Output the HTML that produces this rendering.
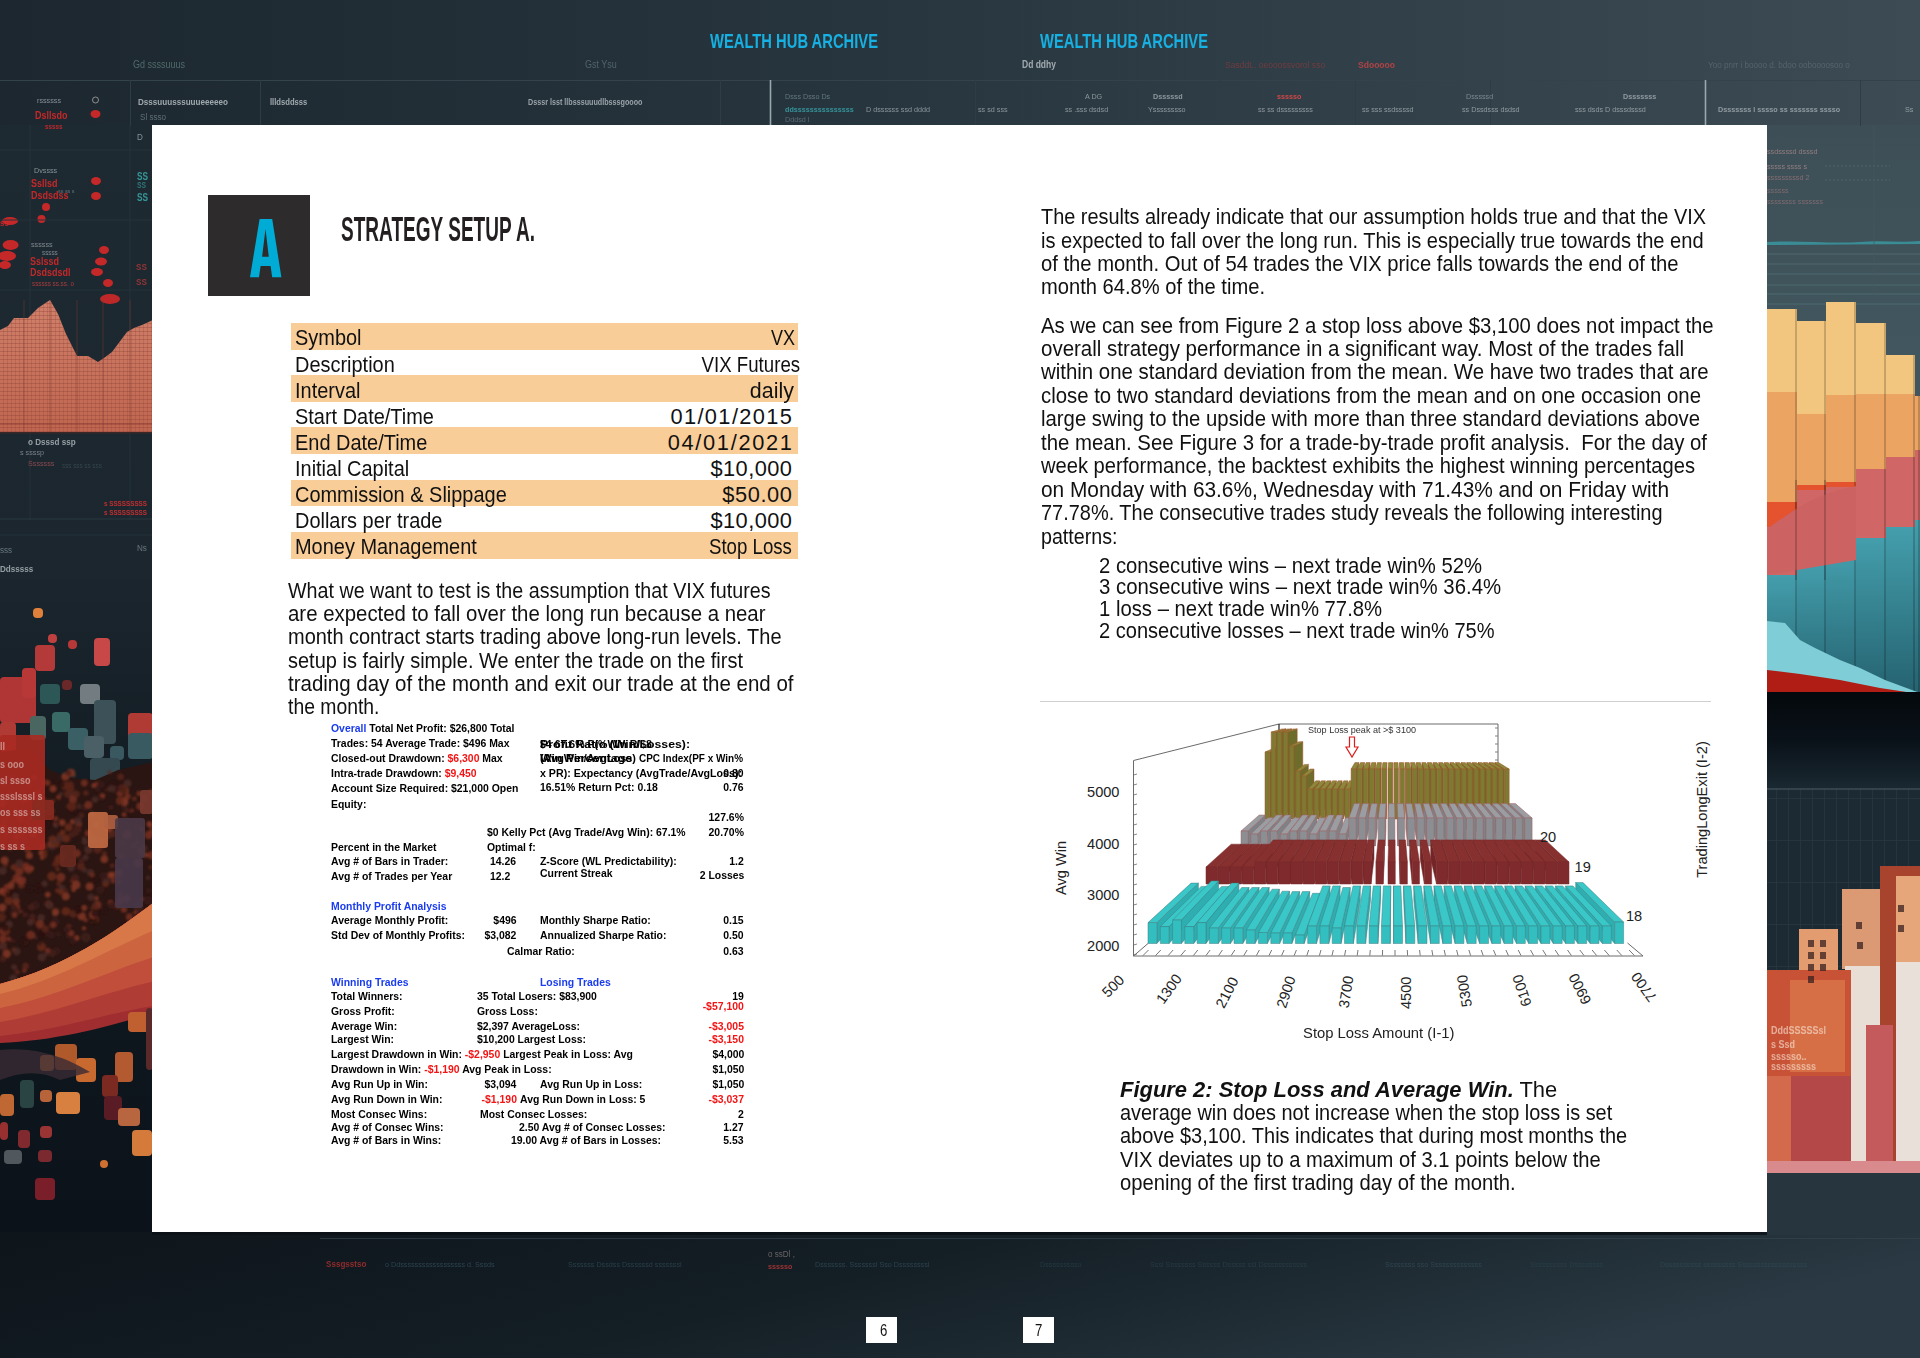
<!DOCTYPE html>
<html><head><meta charset="utf-8"><title>Strategy Setup A</title>
<style>
html,body{margin:0;padding:0;}
body{width:1920px;height:1358px;position:relative;overflow:hidden;background:#18232b;font-family:"Liberation Sans",sans-serif;}
svg.bg,svg.chart{position:absolute;left:0;top:0;}
.page{position:absolute;left:152px;top:125px;width:1615px;height:1107px;background:#fff;}
.t{position:absolute;white-space:nowrap;}
.box{position:absolute;left:208px;top:195px;width:102px;height:101px;background:#2d2b2c;}
.orow{position:absolute;left:291px;width:506.5px;background:#f9cd98;}
.pn{position:absolute;top:1317px;width:31px;height:26px;background:#fff;}
</style></head><body>
<svg class="bg" width="1920" height="1358" viewBox="0 0 1920 1358">
<defs>
<linearGradient id="gTop" x1="0" y1="0" x2="1" y2="0">
 <stop offset="0" stop-color="#1c272f"/><stop offset="0.45" stop-color="#27353e"/><stop offset="1" stop-color="#3d4b54"/>
</linearGradient>
<linearGradient id="gBot" x1="0" y1="0" x2="1" y2="0.25">
 <stop offset="0" stop-color="#0e151b"/><stop offset="0.5" stop-color="#141e25"/><stop offset="0.75" stop-color="#1e2b33"/><stop offset="1" stop-color="#2a3943"/>
</linearGradient>
<linearGradient id="gLeft" x1="0" y1="0" x2="0" y2="1">
 <stop offset="0" stop-color="#1e2a32"/><stop offset="0.4" stop-color="#1b262e"/><stop offset="0.6" stop-color="#131c23"/><stop offset="1" stop-color="#0b1219"/>
</linearGradient>
<linearGradient id="gRight" x1="0" y1="0" x2="0" y2="1">
 <stop offset="0" stop-color="#3d4e56"/><stop offset="0.2" stop-color="#41565e"/><stop offset="1" stop-color="#34444d"/>
</linearGradient>
<linearGradient id="gBand" x1="1" y1="0" x2="0" y2="0.6">
 <stop offset="0" stop-color="#e08048"/><stop offset="0.45" stop-color="#cc6a40"/><stop offset="0.75" stop-color="#b04536"/><stop offset="1" stop-color="#8e2a2c"/>
</linearGradient>
<linearGradient id="gTealR" x1="0" y1="0" x2="1" y2="0">
 <stop offset="0" stop-color="#3f95a3"/><stop offset="1" stop-color="#2d6f7e"/>
</linearGradient>
<linearGradient id="gDarkR" x1="0" y1="0" x2="0" y2="1">
 <stop offset="0" stop-color="#04080c"/><stop offset="0.5" stop-color="#0a1219"/><stop offset="1" stop-color="#1b2a33"/>
</linearGradient>
<linearGradient id="gTealCol" x1="0" y1="0" x2="0" y2="1">
 <stop offset="0" stop-color="#449eac"/><stop offset="1" stop-color="#24606e"/>
</linearGradient>
<linearGradient id="gSalmon" x1="0" y1="0" x2="0" y2="1">
 <stop offset="0" stop-color="#d0806a"/><stop offset="1" stop-color="#c0664f"/>
</linearGradient>
<filter id="fBlur" x="-5%" y="-5%" width="110%" height="110%"><feGaussianBlur stdDeviation="1.2"/></filter>
<pattern id="pGrid" width="4" height="4" patternUnits="userSpaceOnUse">
 <rect width="4" height="4" fill="none"/><rect x="0" y="3" width="4" height="1" fill="#8a4036" opacity="0.35"/><rect x="3" y="0" width="1" height="4" fill="#8a4036" opacity="0.25"/>
</pattern>
<pattern id="pGridR" width="12" height="42" patternUnits="userSpaceOnUse">
 <rect x="0" y="0" width="1" height="42" fill="#2f4049" opacity="0.8"/><rect x="0" y="0" width="12" height="1" fill="#2f4049" opacity="0.8"/>
</pattern>
</defs>
<rect x="0" y="0" width="1920" height="1358" fill="#18232b"/>
<rect x="0" y="0" width="1920" height="126" fill="url(#gTop)"/>
<rect x="0" y="125" width="153" height="1110" fill="url(#gLeft)"/>
<rect x="1766" y="125" width="154" height="1110" fill="url(#gRight)"/>
<rect x="0" y="1232" width="1920" height="126" fill="url(#gBot)"/>
<line x1="0" y1="80.5" x2="1920" y2="80.5" stroke="#33424b" stroke-width="1"/>
<line x1="770.5" y1="80" x2="770.5" y2="126" stroke="#9aa8b0" stroke-width="1.6"/>
<line x1="1705.5" y1="80" x2="1705.5" y2="126" stroke="#9aa8b0" stroke-width="1.6"/>
<line x1="130.5" y1="80" x2="130.5" y2="126" stroke="#2e3c45" stroke-width="1"/>
<line x1="260.5" y1="80" x2="260.5" y2="126" stroke="#2e3c45" stroke-width="1"/>
<line x1="720.5" y1="80" x2="720.5" y2="126" stroke="#2e3c45" stroke-width="1"/>
<line x1="975.5" y1="80" x2="975.5" y2="126" stroke="#2e3c45" stroke-width="1"/>
<line x1="1220.5" y1="80" x2="1220.5" y2="126" stroke="#2e3c45" stroke-width="1"/>
<line x1="1355.5" y1="80" x2="1355.5" y2="126" stroke="#2e3c45" stroke-width="1"/>
<line x1="1490.5" y1="80" x2="1490.5" y2="126" stroke="#2e3c45" stroke-width="1"/>
<line x1="1860.5" y1="80" x2="1860.5" y2="126" stroke="#2e3c45" stroke-width="1"/>
<g><text transform="translate(133 68) scale(0.9 1)" font-family="Liberation Sans" font-size="10" font-weight="normal" fill="#5d7a78" opacity="0.8">Gd ssssuuus</text><text transform="translate(585 68) scale(0.9 1)" font-family="Liberation Sans" font-size="10" font-weight="normal" fill="#5d7076" opacity="0.8">Gst Ysu</text><text transform="translate(1022 68) scale(0.85 1)" font-family="Liberation Sans" font-size="10" font-weight="bold" fill="#c8d0d4" opacity="0.75">Dd ddhy</text><text transform="translate(1225 68) scale(0.95 1)" font-family="Liberation Sans" font-size="9" font-weight="normal" fill="#9a3a3a" opacity="0.6">Sasddt.. oeooossvorol sso</text><text transform="translate(1358 68) scale(0.95 1)" font-family="Liberation Sans" font-size="9" font-weight="bold" fill="#d04444" opacity="0.8">Sdooooo</text><text transform="translate(1708 68) scale(0.9 1)" font-family="Liberation Sans" font-size="9" font-weight="normal" fill="#6a7a82" opacity="0.55">Yoo pnrr i boooo d. bdoo ooboooosoo o</text><text transform="translate(138 105) scale(0.9 1)" font-family="Liberation Sans" font-size="9" font-weight="bold" fill="#c9d1d5" opacity="0.75">Dsssuuusssuuueeeeeo</text><text transform="translate(270 105) scale(0.85 1)" font-family="Liberation Sans" font-size="9" font-weight="bold" fill="#c9d1d5" opacity="0.75">llldsddsss</text><text transform="translate(528 105) scale(0.8 1)" font-family="Liberation Sans" font-size="9" font-weight="bold" fill="#c9d1d5" opacity="0.7">Dsssr lsst llbsssuuudlbsssgoooo</text><text transform="translate(140 120) scale(0.9 1)" font-family="Liberation Sans" font-size="9" font-weight="normal" fill="#8a9aa2" opacity="0.6">Sl ssso</text><text transform="translate(785 99) scale(0.9 1)" font-family="Liberation Sans" font-size="8" font-weight="normal" fill="#8aa0a8" opacity="0.6">Dsss        Dsso      Ds</text><text transform="translate(785 112) scale(0.9 1)" font-family="Liberation Sans" font-size="8" font-weight="bold" fill="#3aaab0" opacity="0.8">ddsssssssssssssss</text><text transform="translate(866 112) scale(0.9 1)" font-family="Liberation Sans" font-size="8" font-weight="normal" fill="#c9d1d5" opacity="0.6">D dssssss   ssd  dddd</text><text transform="translate(978 112) scale(0.9 1)" font-family="Liberation Sans" font-size="8" font-weight="normal" fill="#c9d1d5" opacity="0.6">ss sd sss</text><text transform="translate(785 122) scale(0.9 1)" font-family="Liberation Sans" font-size="8" font-weight="normal" fill="#8aa0a8" opacity="0.5">Dddsd  l</text><text transform="translate(1085 99) scale(0.9 1)" font-family="Liberation Sans" font-size="8" font-weight="normal" fill="#c9d1d5" opacity="0.6">A DG</text><text transform="translate(1065 112) scale(0.9 1)" font-family="Liberation Sans" font-size="8" font-weight="normal" fill="#c9d1d5" opacity="0.6">ss .sss dsdsd</text><text transform="translate(1153 99) scale(0.9 1)" font-family="Liberation Sans" font-size="8" font-weight="bold" fill="#c9d1d5" opacity="0.6">Dsssssd</text><text transform="translate(1148 112) scale(0.9 1)" font-family="Liberation Sans" font-size="8" font-weight="normal" fill="#c9d1d5" opacity="0.6">Ysssssssso</text><text transform="translate(1277 99) scale(0.9 1)" font-family="Liberation Sans" font-size="8" font-weight="bold" fill="#e04848" opacity="0.9">ssssso</text><text transform="translate(1258 112) scale(0.9 1)" font-family="Liberation Sans" font-size="8" font-weight="normal" fill="#c9d1d5" opacity="0.6">ss ss dsssssssss</text><text transform="translate(1362 112) scale(0.9 1)" font-family="Liberation Sans" font-size="8" font-weight="normal" fill="#c9d1d5" opacity="0.6">ss sss  ssdssssd</text><text transform="translate(1466 99) scale(0.9 1)" font-family="Liberation Sans" font-size="8" font-weight="normal" fill="#aab6bc" opacity="0.6">Dsssssd</text><text transform="translate(1462 112) scale(0.9 1)" font-family="Liberation Sans" font-size="8" font-weight="normal" fill="#c9d1d5" opacity="0.6">ss Dssdsss dsdsd</text><text transform="translate(1575 112) scale(0.9 1)" font-family="Liberation Sans" font-size="8" font-weight="normal" fill="#c9d1d5" opacity="0.6">sss dsds  D dsssdsssd</text><text transform="translate(1623 99) scale(0.9 1)" font-family="Liberation Sans" font-size="8" font-weight="bold" fill="#c9d1d5" opacity="0.6">Dsssssss</text><text transform="translate(1718 112) scale(0.9 1)" font-family="Liberation Sans" font-size="8" font-weight="bold" fill="#c9d1d5" opacity="0.6">Dsssssss l sssso    ss sssssss sssso</text></g>
<g><text transform="translate(326 1267) scale(0.9 1)" font-family="Liberation Sans" font-size="9" font-weight="bold" fill="#b83030" opacity="0.75">Sssgsstso</text><text transform="translate(385 1267) scale(0.9 1)" font-family="Liberation Sans" font-size="8" font-weight="normal" fill="#355560" opacity="0.7">o Ddssssssssssssssssss d. Sssds</text><text transform="translate(568 1267) scale(0.9 1)" font-family="Liberation Sans" font-size="8" font-weight="normal" fill="#355560" opacity="0.6">Sssssss Dssdss Dssssssd sssssssl</text><text transform="translate(768 1257) scale(0.9 1)" font-family="Liberation Sans" font-size="9" font-weight="normal" fill="#a09090" opacity="0.6">o ssDl ,</text><text transform="translate(768 1269) scale(0.9 1)" font-family="Liberation Sans" font-size="8" font-weight="bold" fill="#c03838" opacity="0.8">ssssso</text><text transform="translate(815 1267) scale(0.9 1)" font-family="Liberation Sans" font-size="8" font-weight="normal" fill="#3a5a66" opacity="0.6">Dsssssss. Sssssssl Sso Dssssssssl</text><text transform="translate(1040 1267) scale(0.9 1)" font-family="Liberation Sans" font-size="8" font-weight="normal" fill="#2e4650" opacity="0.6">Dssssssssso</text><text transform="translate(1150 1267) scale(0.9 1)" font-family="Liberation Sans" font-size="8" font-weight="normal" fill="#2e4650" opacity="0.6">Sssl Ssssssss   Ssssss Dsssss  ssl  Dssssssssssss</text><text transform="translate(1385 1267) scale(0.9 1)" font-family="Liberation Sans" font-size="8" font-weight="normal" fill="#3a5560" opacity="0.6">Ssssssss sso Ssssssssssssss</text><text transform="translate(1530 1267) scale(0.9 1)" font-family="Liberation Sans" font-size="8" font-weight="normal" fill="#2e4650" opacity="0.6">Ssssssssss   Dssssssss</text><text transform="translate(1660 1267) scale(0.9 1)" font-family="Liberation Sans" font-size="8" font-weight="normal" fill="#34505a" opacity="0.6">Dssssssssss  sssssssss  Sssssssssssssssssss</text></g>
<line x1="320" y1="1238.5" x2="1920" y2="1238.5" stroke="#34454e" stroke-width="1" opacity="0.7"/>
<rect x="152" y="1232" width="1615" height="3" fill="#0a1015" opacity="0.8"/>
<g><text transform="translate(37 103) scale(0.9 1)" font-family="Liberation Sans" font-size="8" font-weight="normal" fill="#c8d0d4" opacity="0.6">rssssss</text><text transform="translate(35 119) scale(0.9 1)" font-family="Liberation Sans" font-size="10" font-weight="bold" fill="#d82828" opacity="0.9">Dsllsdo</text><text transform="translate(45 129) scale(0.9 1)" font-family="Liberation Sans" font-size="7" font-weight="bold" fill="#d82828" opacity="0.85">sssss</text><text transform="translate(34 173) scale(0.9 1)" font-family="Liberation Sans" font-size="8" font-weight="normal" fill="#c8d0d4" opacity="0.6">Dvssss</text><text transform="translate(31 187) scale(0.9 1)" font-family="Liberation Sans" font-size="10" font-weight="bold" fill="#d82828" opacity="0.9">Ssllsd</text><text transform="translate(31 199) scale(0.9 1)" font-family="Liberation Sans" font-size="10" font-weight="bold" fill="#d82828" opacity="0.9">Dsdsdss</text><text transform="translate(58 193) scale(0.9 1)" font-family="Liberation Sans" font-size="6" font-weight="normal" fill="#b0b8bc" opacity="0.5">ss ss s</text><text transform="translate(31 247) scale(0.9 1)" font-family="Liberation Sans" font-size="8" font-weight="normal" fill="#c8d0d4" opacity="0.55">ssssss</text><text transform="translate(42 255) scale(0.9 1)" font-family="Liberation Sans" font-size="7" font-weight="normal" fill="#c8d0d4" opacity="0.55">sssss</text><text transform="translate(30 265) scale(0.9 1)" font-family="Liberation Sans" font-size="10" font-weight="bold" fill="#d82828" opacity="0.9">Sslssd</text><text transform="translate(30 276) scale(0.9 1)" font-family="Liberation Sans" font-size="10" font-weight="bold" fill="#d82828" opacity="0.9">Dsdsdsdl</text><text transform="translate(32 286) scale(0.9 1)" font-family="Liberation Sans" font-size="7" font-weight="normal" fill="#c84040" opacity="0.8">ssssss ss.ss. o</text><text transform="translate(0 226) scale(0.9 1)" font-family="Liberation Sans" font-size="9" font-weight="bold" fill="#d82828" opacity="0.85">ss</text><text transform="translate(136 270) scale(0.9 1)" font-family="Liberation Sans" font-size="9" font-weight="bold" fill="#b03838" opacity="0.8">SS</text><text transform="translate(136 285) scale(0.9 1)" font-family="Liberation Sans" font-size="9" font-weight="bold" fill="#b03838" opacity="0.8">SS</text><ellipse cx="95.5" cy="114" rx="5" ry="4" fill="#d82828" opacity="0.9"/><ellipse cx="96" cy="181" rx="5" ry="4" fill="#d82828" opacity="0.9"/><ellipse cx="96" cy="196" rx="5" ry="4" fill="#d82828" opacity="0.9"/><ellipse cx="46" cy="207" rx="4" ry="4" fill="#d82828" opacity="0.9"/><ellipse cx="41.5" cy="219" rx="4" ry="4" fill="#d82828" opacity="0.9"/><ellipse cx="10" cy="221" rx="8" ry="4" fill="#d82828" opacity="0.9"/><ellipse cx="104" cy="250" rx="5" ry="4" fill="#d82828" opacity="0.9"/><ellipse cx="101" cy="261.5" rx="6" ry="4" fill="#d82828" opacity="0.9"/><ellipse cx="97" cy="272" rx="6" ry="4" fill="#d82828" opacity="0.9"/><ellipse cx="108" cy="283" rx="5" ry="4" fill="#d82828" opacity="0.9"/><ellipse cx="10.6" cy="245" rx="8" ry="5" fill="#d82828" opacity="0.9"/><ellipse cx="7" cy="256" rx="9" ry="5" fill="#d82828" opacity="0.9"/><ellipse cx="5" cy="265" rx="6" ry="4" fill="#d82828" opacity="0.9"/><ellipse cx="95.5" cy="100" rx="3" ry="3" fill="none" stroke="#d8d0d0" stroke-width="1" opacity="0.6"/><ellipse cx="110" cy="299" rx="10" ry="5" fill="#d02828" opacity="0.9"/><text transform="translate(137 180) scale(0.75 1)" font-family="Liberation Sans" font-size="11" font-weight="bold" fill="#3aa8a8" opacity="0.85">SS</text><text transform="translate(137 188) scale(0.75 1)" font-family="Liberation Sans" font-size="9" font-weight="bold" fill="#3aa8a8" opacity="0.6">SS</text><text transform="translate(137 201) scale(0.75 1)" font-family="Liberation Sans" font-size="11" font-weight="bold" fill="#3aa8a8" opacity="0.85">SS</text><text transform="translate(137 140) scale(0.9 1)" font-family="Liberation Sans" font-size="9" font-weight="normal" fill="#c8d0d4" opacity="0.6">D</text><line x1="0" y1="150" x2="153" y2="150" stroke="#26333b" stroke-width="1"/><line x1="0" y1="220" x2="153" y2="220" stroke="#26333b" stroke-width="1"/><line x1="0" y1="290" x2="153" y2="290" stroke="#26333b" stroke-width="1"/><line x1="30" y1="125" x2="30" y2="520" stroke="#25323a" stroke-width="1"/><line x1="130" y1="125" x2="130" y2="520" stroke="#25323a" stroke-width="1"/><polygon points="0,330 8,326 14,318 28,318 38,308 50,300 58,314 66,334 77,356 88,356 98,362 104,358 112,352 127,332 134,328 142,325 153,320 153,432 0,432" fill="url(#gSalmon)"/><polygon points="0,330 8,326 14,318 28,318 38,308 50,300 58,314 66,334 77,356 88,356 98,362 104,358 112,352 127,332 134,328 142,325 153,320 153,432 0,432" fill="url(#pGrid)"/><line x1="24" y1="300" x2="24" y2="432" stroke="#7a3a30" stroke-width="0.8" opacity="0.6"/><line x1="50" y1="300" x2="50" y2="432" stroke="#7a3a30" stroke-width="0.8" opacity="0.6"/><line x1="77" y1="300" x2="77" y2="432" stroke="#7a3a30" stroke-width="0.8" opacity="0.6"/><line x1="103" y1="300" x2="103" y2="432" stroke="#7a3a30" stroke-width="0.8" opacity="0.6"/><line x1="130" y1="300" x2="130" y2="432" stroke="#7a3a30" stroke-width="0.8" opacity="0.6"/><rect x="0" y="423" width="153" height="2" fill="#8a3a30" opacity="0.4"/><rect x="0" y="432" width="153" height="1.5" fill="#3a2828"/><text transform="translate(28 445) scale(0.9 1)" font-family="Liberation Sans" font-size="9" font-weight="bold" fill="#c8d0d4" opacity="0.7">o Dsssd ssp</text><text transform="translate(20 455) scale(0.9 1)" font-family="Liberation Sans" font-size="8" font-weight="normal" fill="#b0bac0" opacity="0.6">s  ssssp</text><text transform="translate(28 466) scale(0.9 1)" font-family="Liberation Sans" font-size="8" font-weight="normal" fill="#b85a5a" opacity="0.7">Sssssss</text><text transform="translate(62 468) scale(0.9 1)" font-family="Liberation Sans" font-size="7" font-weight="normal" fill="#506068" opacity="0.5">sss sss ss sss</text><text transform="translate(104 506) scale(0.9 1)" font-family="Liberation Sans" font-size="7" font-weight="bold" fill="#e03030" opacity="0.85">s SSSSSSSSS</text><text transform="translate(104 515) scale(0.9 1)" font-family="Liberation Sans" font-size="7" font-weight="bold" fill="#e03030" opacity="0.85">s SSSSSSSSS</text><text transform="translate(0 553) scale(0.9 1)" font-family="Liberation Sans" font-size="9" font-weight="normal" fill="#9aa8b0" opacity="0.6">sss</text><text transform="translate(0 572) scale(0.9 1)" font-family="Liberation Sans" font-size="9" font-weight="bold" fill="#c8d0d4" opacity="0.7">Ddsssss</text><text transform="translate(137 551) scale(0.9 1)" font-family="Liberation Sans" font-size="9" font-weight="normal" fill="#9aa8b0" opacity="0.6">Ns</text><line x1="0" y1="519" x2="153" y2="519" stroke="#2a3840" stroke-width="1"/><line x1="0" y1="535" x2="153" y2="535" stroke="#24313a" stroke-width="1"/><rect x="33" y="608" width="10" height="10" rx="4" fill="#e0803a"/><rect x="48" y="634" width="9" height="9" rx="4" fill="#c04040"/><rect x="35" y="645" width="20" height="26" rx="4" fill="#b43a3a"/><rect x="68" y="640" width="9" height="9" rx="4" fill="#b83838"/><rect x="94" y="638" width="16" height="28" rx="4" fill="#c84848"/><rect x="0" y="677" width="36" height="46" rx="4" fill="#b03636"/><rect x="22" y="668" width="14" height="30" rx="4" fill="#b83838"/><rect x="40" y="684" width="20" height="20" rx="4" fill="#2d5656"/><rect x="62" y="680" width="10" height="10" rx="4" fill="#6a2828"/><rect x="80" y="684" width="20" height="20" rx="4" fill="#737c80"/><rect x="52" y="712" width="18" height="20" rx="4" fill="#3a6a66"/><rect x="30" y="716" width="16" height="24" rx="4" fill="#4a6660"/><rect x="68" y="728" width="20" height="22" rx="4" fill="#3a6066"/><rect x="94" y="700" width="22" height="44" rx="4" fill="#3c5258"/><rect x="84" y="736" width="20" height="22" rx="4" fill="#4a6066"/><rect x="128" y="713" width="25" height="30" rx="4" fill="#b03a34"/><rect x="128" y="733" width="25" height="26" rx="4" fill="#3a5a62"/><rect x="110" y="746" width="14" height="14" rx="4" fill="#3a5860"/><rect x="90" y="758" width="30" height="24" rx="4" fill="#354a50"/><rect x="0" y="722" width="16" height="30" rx="4" fill="#b03a34"/><path d="M0,752 L30,748 L50,770 L70,778 L95,780 L118,770 L153,762 L153,905 C115,932 65,967 0,986 Z" fill="#2a1512"/><g filter="url(#fBlur)"><circle cx="49.5" cy="803.2" r="3.6" fill="#5a2418" opacity="0.8"/><circle cx="125.7" cy="790.7" r="3.5" fill="#7a3022" opacity="0.8"/><circle cx="5.7" cy="865.4" r="2.2" fill="#5a2418" opacity="0.8"/><circle cx="84.3" cy="783.0" r="3.4" fill="#7a3022" opacity="0.8"/><circle cx="96.5" cy="898.3" r="2.2" fill="#8a3a24" opacity="0.8"/><circle cx="7.6" cy="818.6" r="3.4" fill="#4a1e18" opacity="0.8"/><circle cx="44.3" cy="801.7" r="2.3" fill="#3a1a16" opacity="0.8"/><circle cx="85.7" cy="920.0" r="2.3" fill="#7a3022" opacity="0.8"/><circle cx="57.0" cy="890.5" r="2.2" fill="#6a2a1c" opacity="0.8"/><circle cx="94.7" cy="879.2" r="3.3" fill="#2a1210" opacity="0.8"/><circle cx="55.3" cy="824.7" r="2.4" fill="#7a3022" opacity="0.8"/><circle cx="12.5" cy="836.1" r="3.2" fill="#2a1210" opacity="0.8"/><circle cx="111.6" cy="833.3" r="4.5" fill="#5a2418" opacity="0.8"/><circle cx="78.3" cy="806.3" r="2.9" fill="#4a2a28" opacity="0.8"/><circle cx="11.9" cy="892.8" r="4.0" fill="#2a1210" opacity="0.8"/><circle cx="52.0" cy="847.0" r="3.2" fill="#4a2a28" opacity="0.8"/><circle cx="10.5" cy="790.6" r="2.7" fill="#5a2418" opacity="0.8"/><circle cx="9.3" cy="924.3" r="3.6" fill="#4a2a28" opacity="0.8"/><circle cx="43.5" cy="854.9" r="3.7" fill="#6a2a1c" opacity="0.8"/><circle cx="143.9" cy="848.2" r="3.5" fill="#4a2a28" opacity="0.8"/><circle cx="9.0" cy="939.0" r="2.3" fill="#7a3022" opacity="0.8"/><circle cx="76.0" cy="806.6" r="3.0" fill="#3a1a16" opacity="0.8"/><circle cx="132.2" cy="831.3" r="3.0" fill="#2a1210" opacity="0.8"/><circle cx="104.5" cy="853.7" r="2.6" fill="#5a2418" opacity="0.8"/><circle cx="27.0" cy="821.0" r="2.6" fill="#4a2a28" opacity="0.8"/><circle cx="127.2" cy="810.1" r="2.7" fill="#4a1e18" opacity="0.8"/><circle cx="64.1" cy="851.2" r="3.4" fill="#4a1e18" opacity="0.8"/><circle cx="105.6" cy="883.4" r="3.5" fill="#6a2a1c" opacity="0.8"/><circle cx="85.6" cy="857.6" r="3.0" fill="#4a2a28" opacity="0.8"/><circle cx="97.0" cy="783.7" r="2.2" fill="#7a3022" opacity="0.8"/><circle cx="67.4" cy="794.2" r="3.5" fill="#5a2418" opacity="0.8"/><circle cx="0.0" cy="803.3" r="2.3" fill="#2a1210" opacity="0.8"/><circle cx="93.9" cy="785.5" r="2.5" fill="#8a3a24" opacity="0.8"/><circle cx="22.7" cy="825.5" r="2.9" fill="#2a1210" opacity="0.8"/><circle cx="72.5" cy="795.4" r="3.2" fill="#4a2a28" opacity="0.8"/><circle cx="73.5" cy="838.6" r="2.4" fill="#2a1210" opacity="0.8"/><circle cx="113.3" cy="875.3" r="3.7" fill="#6a2a1c" opacity="0.8"/><circle cx="55.3" cy="921.8" r="4.3" fill="#3a1a16" opacity="0.8"/><circle cx="106.5" cy="827.4" r="2.9" fill="#4a1e18" opacity="0.8"/><circle cx="54.4" cy="819.0" r="3.4" fill="#2a1210" opacity="0.8"/><circle cx="97.4" cy="904.9" r="4.0" fill="#7a3022" opacity="0.8"/><circle cx="113.2" cy="819.9" r="3.3" fill="#2a1210" opacity="0.8"/><circle cx="120.9" cy="873.9" r="2.5" fill="#2a1210" opacity="0.8"/><circle cx="55.8" cy="818.5" r="2.6" fill="#7a3022" opacity="0.8"/><circle cx="51.7" cy="876.2" r="4.5" fill="#6a2a1c" opacity="0.8"/><circle cx="73.4" cy="913.7" r="4.0" fill="#5a2418" opacity="0.8"/><circle cx="127.7" cy="796.4" r="3.0" fill="#7a3022" opacity="0.8"/><circle cx="73.1" cy="809.3" r="4.0" fill="#2a1210" opacity="0.8"/><circle cx="13.3" cy="978.2" r="3.8" fill="#4a2a28" opacity="0.8"/><circle cx="110.9" cy="807.4" r="2.3" fill="#4a1e18" opacity="0.8"/><circle cx="90.4" cy="872.4" r="3.6" fill="#4a2a28" opacity="0.8"/><circle cx="100.6" cy="847.1" r="3.4" fill="#4a1e18" opacity="0.8"/><circle cx="3.3" cy="945.9" r="3.8" fill="#5a2418" opacity="0.8"/><circle cx="126.4" cy="816.4" r="2.6" fill="#3a1a16" opacity="0.8"/><circle cx="76.7" cy="938.0" r="2.8" fill="#8a3a24" opacity="0.8"/><circle cx="127.6" cy="783.4" r="3.8" fill="#4a2a28" opacity="0.8"/><circle cx="134.4" cy="798.8" r="2.4" fill="#6a2a1c" opacity="0.8"/><circle cx="22.9" cy="801.1" r="3.5" fill="#5a2418" opacity="0.8"/><circle cx="85.1" cy="841.7" r="3.3" fill="#4a2a28" opacity="0.8"/><circle cx="120.0" cy="793.3" r="3.4" fill="#7a3022" opacity="0.8"/><circle cx="29.3" cy="779.3" r="2.2" fill="#4a2a28" opacity="0.8"/><circle cx="85.9" cy="937.2" r="4.3" fill="#4a2a28" opacity="0.8"/><circle cx="92.7" cy="813.9" r="2.7" fill="#4a2a28" opacity="0.8"/><circle cx="77.7" cy="824.5" r="3.3" fill="#3a1a16" opacity="0.8"/><circle cx="31.0" cy="868.5" r="3.0" fill="#8a3a24" opacity="0.8"/><circle cx="67.6" cy="786.0" r="2.6" fill="#5a2418" opacity="0.8"/><circle cx="32.5" cy="836.6" r="2.3" fill="#4a1e18" opacity="0.8"/><circle cx="56.0" cy="825.7" r="2.3" fill="#4a2a28" opacity="0.8"/><circle cx="60.9" cy="877.2" r="4.5" fill="#7a3022" opacity="0.8"/><circle cx="24.7" cy="864.9" r="3.3" fill="#2a1210" opacity="0.8"/><circle cx="64.5" cy="848.5" r="2.2" fill="#2a1210" opacity="0.8"/><circle cx="3.0" cy="891.9" r="3.1" fill="#6a2a1c" opacity="0.8"/><circle cx="58.8" cy="883.8" r="2.7" fill="#5a2418" opacity="0.8"/><circle cx="17.3" cy="972.1" r="2.6" fill="#5a2418" opacity="0.8"/><circle cx="12.9" cy="829.8" r="4.3" fill="#4a1e18" opacity="0.8"/><circle cx="41.4" cy="798.5" r="3.1" fill="#3a1a16" opacity="0.8"/><circle cx="62.1" cy="888.1" r="3.3" fill="#4a2a28" opacity="0.8"/><circle cx="107.2" cy="789.7" r="2.1" fill="#4a1e18" opacity="0.8"/><circle cx="65.1" cy="785.9" r="4.3" fill="#5a2418" opacity="0.8"/><circle cx="122.6" cy="788.4" r="4.1" fill="#5a2418" opacity="0.8"/><circle cx="40.5" cy="796.8" r="2.0" fill="#8a3a24" opacity="0.8"/><circle cx="141.8" cy="828.9" r="2.3" fill="#7a3022" opacity="0.8"/><circle cx="40.1" cy="809.9" r="4.3" fill="#3a1a16" opacity="0.8"/><circle cx="81.3" cy="815.3" r="3.1" fill="#4a1e18" opacity="0.8"/><circle cx="41.4" cy="946.8" r="4.5" fill="#6a2a1c" opacity="0.8"/><circle cx="2.3" cy="931.3" r="3.4" fill="#7a3022" opacity="0.8"/><circle cx="78.7" cy="824.0" r="3.1" fill="#8a3a24" opacity="0.8"/><circle cx="100.4" cy="890.1" r="4.2" fill="#3a1a16" opacity="0.8"/><circle cx="52.4" cy="953.1" r="3.8" fill="#4a1e18" opacity="0.8"/><circle cx="61.9" cy="846.5" r="2.1" fill="#4a1e18" opacity="0.8"/><circle cx="2.2" cy="907.6" r="4.2" fill="#8a3a24" opacity="0.8"/><circle cx="25.0" cy="788.6" r="4.1" fill="#3a1a16" opacity="0.8"/><circle cx="91.6" cy="922.4" r="2.1" fill="#4a1e18" opacity="0.8"/><circle cx="24.1" cy="868.1" r="2.7" fill="#2a1210" opacity="0.8"/><circle cx="148.8" cy="890.4" r="2.6" fill="#3a1a16" opacity="0.8"/><circle cx="33.3" cy="810.3" r="2.8" fill="#5a2418" opacity="0.8"/><circle cx="72.6" cy="880.6" r="2.5" fill="#6a2a1c" opacity="0.8"/><circle cx="13.9" cy="949.7" r="2.4" fill="#6a2a1c" opacity="0.8"/><circle cx="60.3" cy="835.9" r="3.6" fill="#5a2418" opacity="0.8"/><circle cx="89.6" cy="886.4" r="3.9" fill="#8a3a24" opacity="0.8"/><circle cx="75.6" cy="832.5" r="3.5" fill="#4a1e18" opacity="0.8"/><circle cx="6.7" cy="953.8" r="4.2" fill="#8a3a24" opacity="0.8"/><circle cx="21.3" cy="885.2" r="3.3" fill="#6a2a1c" opacity="0.8"/><circle cx="126.4" cy="898.5" r="4.2" fill="#7a3022" opacity="0.8"/><circle cx="13.0" cy="779.2" r="3.6" fill="#5a2418" opacity="0.8"/><circle cx="57.6" cy="869.3" r="2.1" fill="#6a2a1c" opacity="0.8"/><circle cx="95.8" cy="919.7" r="3.2" fill="#6a2a1c" opacity="0.8"/><circle cx="69.9" cy="785.4" r="4.3" fill="#5a2418" opacity="0.8"/><circle cx="100.9" cy="784.5" r="3.8" fill="#3a1a16" opacity="0.8"/><circle cx="35.9" cy="936.4" r="2.6" fill="#4a2a28" opacity="0.8"/><circle cx="75.6" cy="854.2" r="3.2" fill="#3a1a16" opacity="0.8"/><circle cx="117.3" cy="905.7" r="3.6" fill="#5a2418" opacity="0.8"/><circle cx="91.8" cy="843.0" r="3.6" fill="#3a1a16" opacity="0.8"/><circle cx="95.0" cy="799.4" r="3.2" fill="#4a2a28" opacity="0.8"/><circle cx="41.1" cy="917.8" r="3.7" fill="#4a2a28" opacity="0.8"/><circle cx="44.5" cy="883.6" r="3.2" fill="#4a2a28" opacity="0.8"/><circle cx="84.0" cy="838.6" r="2.2" fill="#4a2a28" opacity="0.8"/><circle cx="2.7" cy="871.0" r="4.0" fill="#4a2a28" opacity="0.8"/><circle cx="152.1" cy="855.1" r="4.3" fill="#7a3022" opacity="0.8"/><circle cx="11.4" cy="789.9" r="3.9" fill="#3a1a16" opacity="0.8"/><circle cx="145.8" cy="799.2" r="4.1" fill="#3a1a16" opacity="0.8"/><circle cx="74.4" cy="775.5" r="2.0" fill="#4a2a28" opacity="0.8"/><circle cx="104.3" cy="859.2" r="3.8" fill="#8a3a24" opacity="0.8"/><circle cx="52.6" cy="839.5" r="4.1" fill="#6a2a1c" opacity="0.8"/><circle cx="49.7" cy="844.4" r="3.0" fill="#7a3022" opacity="0.8"/><circle cx="44.3" cy="851.9" r="3.0" fill="#5a2418" opacity="0.8"/><circle cx="55.2" cy="864.2" r="2.7" fill="#6a2a1c" opacity="0.8"/><circle cx="42.9" cy="781.4" r="3.7" fill="#4a1e18" opacity="0.8"/><circle cx="38.1" cy="828.5" r="3.3" fill="#7a3022" opacity="0.8"/><circle cx="65.4" cy="776.4" r="3.9" fill="#8a3a24" opacity="0.8"/><circle cx="84.0" cy="928.3" r="2.1" fill="#8a3a24" opacity="0.8"/><circle cx="69.0" cy="935.6" r="3.6" fill="#3a1a16" opacity="0.8"/><circle cx="84.2" cy="807.6" r="3.0" fill="#3a1a16" opacity="0.8"/><circle cx="45.6" cy="932.6" r="4.4" fill="#3a1a16" opacity="0.8"/><circle cx="62.2" cy="822.5" r="3.2" fill="#8a3a24" opacity="0.8"/><circle cx="18.3" cy="911.5" r="2.2" fill="#4a2a28" opacity="0.8"/><circle cx="84.2" cy="869.7" r="2.8" fill="#4a2a28" opacity="0.8"/><circle cx="65.4" cy="890.5" r="2.6" fill="#4a1e18" opacity="0.8"/><circle cx="52.3" cy="790.0" r="2.6" fill="#3a1a16" opacity="0.8"/><circle cx="123.8" cy="814.5" r="2.1" fill="#8a3a24" opacity="0.8"/><circle cx="58.6" cy="934.1" r="2.5" fill="#3a1a16" opacity="0.8"/><circle cx="51.7" cy="783.7" r="2.7" fill="#2a1210" opacity="0.8"/><circle cx="19.3" cy="880.7" r="3.6" fill="#7a3022" opacity="0.8"/><circle cx="14.2" cy="967.3" r="3.0" fill="#4a2a28" opacity="0.8"/><circle cx="66.1" cy="838.6" r="4.0" fill="#6a2a1c" opacity="0.8"/><circle cx="19.5" cy="863.5" r="3.9" fill="#4a2a28" opacity="0.8"/><circle cx="148.1" cy="877.8" r="2.2" fill="#4a2a28" opacity="0.8"/><circle cx="148.8" cy="824.7" r="2.3" fill="#4a1e18" opacity="0.8"/><circle cx="16.7" cy="951.6" r="3.8" fill="#4a2a28" opacity="0.8"/><circle cx="13.0" cy="940.9" r="2.0" fill="#4a1e18" opacity="0.8"/><circle cx="98.8" cy="836.8" r="2.3" fill="#3a1a16" opacity="0.8"/><circle cx="80.8" cy="866.2" r="3.9" fill="#5a2418" opacity="0.8"/><circle cx="10.8" cy="885.4" r="3.5" fill="#8a3a24" opacity="0.8"/><circle cx="39.9" cy="943.9" r="2.0" fill="#3a1a16" opacity="0.8"/><circle cx="152.4" cy="831.3" r="2.8" fill="#7a3022" opacity="0.8"/><circle cx="72.7" cy="821.6" r="2.6" fill="#8a3a24" opacity="0.8"/><circle cx="107.8" cy="837.6" r="2.1" fill="#4a2a28" opacity="0.8"/><circle cx="135.4" cy="912.4" r="2.2" fill="#7a3022" opacity="0.8"/><circle cx="34.7" cy="777.5" r="2.8" fill="#8a3a24" opacity="0.8"/><circle cx="55.4" cy="857.2" r="2.0" fill="#3a1a16" opacity="0.8"/><circle cx="113.1" cy="881.1" r="2.5" fill="#7a3022" opacity="0.8"/><circle cx="47.7" cy="950.4" r="2.6" fill="#7a3022" opacity="0.8"/><circle cx="16.7" cy="907.2" r="3.5" fill="#7a3022" opacity="0.8"/><circle cx="8.6" cy="900.9" r="4.3" fill="#6a2a1c" opacity="0.8"/><circle cx="21.7" cy="781.4" r="2.2" fill="#8a3a24" opacity="0.8"/><circle cx="68.8" cy="926.6" r="2.8" fill="#5a2418" opacity="0.8"/><circle cx="50.4" cy="810.8" r="4.3" fill="#4a2a28" opacity="0.8"/><circle cx="4.9" cy="916.2" r="2.9" fill="#2a1210" opacity="0.8"/><circle cx="150.7" cy="867.3" r="2.3" fill="#5a2418" opacity="0.8"/><circle cx="42.8" cy="847.3" r="4.4" fill="#5a2418" opacity="0.8"/><circle cx="85.9" cy="936.9" r="3.0" fill="#3a1a16" opacity="0.8"/><circle cx="125.8" cy="865.1" r="2.1" fill="#4a2a28" opacity="0.8"/><circle cx="29.9" cy="889.1" r="3.1" fill="#2a1210" opacity="0.8"/><circle cx="4.6" cy="860.4" r="4.0" fill="#8a3a24" opacity="0.8"/><circle cx="6.2" cy="777.7" r="2.2" fill="#6a2a1c" opacity="0.8"/><circle cx="39.3" cy="934.4" r="4.2" fill="#2a1210" opacity="0.8"/><circle cx="55.5" cy="843.7" r="4.4" fill="#6a2a1c" opacity="0.8"/><circle cx="40.1" cy="927.7" r="2.8" fill="#3a1a16" opacity="0.8"/><circle cx="45.5" cy="928.7" r="3.5" fill="#5a2418" opacity="0.8"/><circle cx="3.7" cy="821.5" r="3.2" fill="#4a2a28" opacity="0.8"/><circle cx="145.9" cy="855.0" r="2.6" fill="#8a3a24" opacity="0.8"/><circle cx="124.7" cy="799.2" r="3.2" fill="#6a2a1c" opacity="0.8"/><circle cx="92.9" cy="842.1" r="2.8" fill="#2a1210" opacity="0.8"/><circle cx="119.9" cy="901.1" r="3.3" fill="#8a3a24" opacity="0.8"/><circle cx="115.2" cy="824.4" r="2.2" fill="#6a2a1c" opacity="0.8"/><circle cx="73.7" cy="889.8" r="2.4" fill="#8a3a24" opacity="0.8"/><circle cx="40.5" cy="788.5" r="2.2" fill="#4a2a28" opacity="0.8"/><circle cx="26.5" cy="799.2" r="3.2" fill="#7a3022" opacity="0.8"/><circle cx="101.7" cy="796.7" r="4.1" fill="#3a1a16" opacity="0.8"/><circle cx="42.7" cy="828.9" r="2.6" fill="#3a1a16" opacity="0.8"/><circle cx="30.5" cy="824.4" r="2.6" fill="#4a1e18" opacity="0.8"/><circle cx="28.8" cy="784.3" r="2.6" fill="#7a3022" opacity="0.8"/><circle cx="77.6" cy="820.9" r="4.0" fill="#4a2a28" opacity="0.8"/><circle cx="151.6" cy="792.5" r="3.2" fill="#7a3022" opacity="0.8"/><circle cx="6.2" cy="834.6" r="2.3" fill="#7a3022" opacity="0.8"/><circle cx="29.7" cy="786.5" r="3.3" fill="#4a1e18" opacity="0.8"/><circle cx="68.7" cy="827.2" r="3.9" fill="#6a2a1c" opacity="0.8"/><circle cx="16.2" cy="901.2" r="3.5" fill="#7a3022" opacity="0.8"/><circle cx="5.7" cy="844.8" r="2.1" fill="#3a1a16" opacity="0.8"/><circle cx="5.9" cy="931.1" r="4.3" fill="#6a2a1c" opacity="0.8"/><circle cx="125.3" cy="860.0" r="2.9" fill="#3a1a16" opacity="0.8"/><circle cx="11.9" cy="776.9" r="3.2" fill="#4a2a28" opacity="0.8"/><circle cx="9.7" cy="792.3" r="3.0" fill="#4a1e18" opacity="0.8"/><circle cx="97.8" cy="790.1" r="2.4" fill="#3a1a16" opacity="0.8"/><circle cx="62.7" cy="832.3" r="2.8" fill="#6a2a1c" opacity="0.8"/><circle cx="47.8" cy="894.6" r="2.9" fill="#8a3a24" opacity="0.8"/><circle cx="2.8" cy="938.7" r="4.0" fill="#7a3022" opacity="0.8"/><circle cx="59.8" cy="859.1" r="4.4" fill="#8a3a24" opacity="0.8"/><circle cx="137.9" cy="863.2" r="4.1" fill="#8a3a24" opacity="0.8"/><circle cx="88.4" cy="850.2" r="3.9" fill="#4a1e18" opacity="0.8"/><circle cx="2.3" cy="891.3" r="3.6" fill="#8a3a24" opacity="0.8"/><circle cx="13.6" cy="906.9" r="2.9" fill="#4a1e18" opacity="0.8"/><circle cx="22.3" cy="832.3" r="3.3" fill="#5a2418" opacity="0.8"/><circle cx="16.6" cy="877.9" r="4.0" fill="#7a3022" opacity="0.8"/><circle cx="46.1" cy="954.2" r="2.1" fill="#4a2a28" opacity="0.8"/><circle cx="48.1" cy="903.7" r="3.6" fill="#5a2418" opacity="0.8"/><circle cx="138.3" cy="906.5" r="4.1" fill="#4a1e18" opacity="0.8"/><circle cx="95.0" cy="905.2" r="2.5" fill="#4a2a28" opacity="0.8"/><circle cx="28.0" cy="818.0" r="3.0" fill="#4a1e18" opacity="0.8"/><circle cx="58.7" cy="797.1" r="2.6" fill="#7a3022" opacity="0.8"/><circle cx="6.3" cy="893.7" r="3.9" fill="#6a2a1c" opacity="0.8"/><circle cx="102.2" cy="841.3" r="3.0" fill="#4a2a28" opacity="0.8"/><circle cx="84.2" cy="907.9" r="2.8" fill="#8a3a24" opacity="0.8"/><circle cx="47.2" cy="824.8" r="3.0" fill="#2a1210" opacity="0.8"/><circle cx="68.4" cy="866.4" r="2.1" fill="#4a2a28" opacity="0.8"/><circle cx="71.2" cy="868.3" r="3.5" fill="#4a2a28" opacity="0.8"/><circle cx="61.3" cy="784.8" r="2.9" fill="#2a1210" opacity="0.8"/><circle cx="14.0" cy="867.2" r="3.3" fill="#6a2a1c" opacity="0.8"/><circle cx="6.2" cy="798.7" r="4.3" fill="#2a1210" opacity="0.8"/><circle cx="119.0" cy="882.5" r="2.1" fill="#8a3a24" opacity="0.8"/><circle cx="4.0" cy="784.6" r="3.5" fill="#5a2418" opacity="0.8"/><circle cx="140.2" cy="806.3" r="4.0" fill="#7a3022" opacity="0.8"/><circle cx="10.0" cy="847.2" r="3.9" fill="#4a1e18" opacity="0.8"/><circle cx="49.5" cy="905.0" r="4.3" fill="#4a2a28" opacity="0.8"/><circle cx="22.0" cy="880.5" r="4.3" fill="#7a3022" opacity="0.8"/><circle cx="90.6" cy="905.5" r="2.6" fill="#2a1210" opacity="0.8"/><circle cx="5.6" cy="810.1" r="2.4" fill="#3a1a16" opacity="0.8"/><circle cx="25.8" cy="942.7" r="2.3" fill="#6a2a1c" opacity="0.8"/><circle cx="97.4" cy="849.2" r="4.2" fill="#5a2418" opacity="0.8"/><circle cx="38.6" cy="887.9" r="4.1" fill="#2a1210" opacity="0.8"/><circle cx="88.3" cy="849.3" r="3.9" fill="#4a2a28" opacity="0.8"/><circle cx="35.2" cy="905.4" r="4.4" fill="#3a1a16" opacity="0.8"/><circle cx="125.4" cy="825.8" r="3.6" fill="#2a1210" opacity="0.8"/><circle cx="33.9" cy="834.0" r="3.6" fill="#8a3a24" opacity="0.8"/><circle cx="20.2" cy="820.0" r="3.6" fill="#6a2a1c" opacity="0.8"/><circle cx="8.3" cy="894.8" r="2.8" fill="#2a1210" opacity="0.8"/><circle cx="81.7" cy="860.9" r="2.8" fill="#4a1e18" opacity="0.8"/><circle cx="31.2" cy="907.3" r="3.2" fill="#4a1e18" opacity="0.8"/><circle cx="2.2" cy="946.3" r="3.8" fill="#4a2a28" opacity="0.8"/><circle cx="14.7" cy="910.4" r="4.2" fill="#3a1a16" opacity="0.8"/><circle cx="61.5" cy="828.1" r="2.0" fill="#2a1210" opacity="0.8"/><circle cx="91.0" cy="897.3" r="3.5" fill="#4a2a28" opacity="0.8"/><circle cx="6.7" cy="886.9" r="3.0" fill="#7a3022" opacity="0.8"/><circle cx="24.4" cy="970.6" r="2.3" fill="#7a3022" opacity="0.8"/><circle cx="21.8" cy="813.9" r="3.5" fill="#8a3a24" opacity="0.8"/><circle cx="124.4" cy="808.4" r="2.8" fill="#3a1a16" opacity="0.8"/><circle cx="110.8" cy="875.1" r="3.3" fill="#8a3a24" opacity="0.8"/><circle cx="71.2" cy="933.2" r="3.1" fill="#7a3022" opacity="0.8"/><circle cx="152.5" cy="827.5" r="3.6" fill="#5a2418" opacity="0.8"/><circle cx="51.3" cy="934.9" r="3.7" fill="#3a1a16" opacity="0.8"/><circle cx="108.9" cy="828.5" r="3.4" fill="#8a3a24" opacity="0.8"/><circle cx="148.7" cy="835.0" r="4.3" fill="#7a3022" opacity="0.8"/><circle cx="13.1" cy="881.6" r="2.4" fill="#7a3022" opacity="0.8"/><circle cx="128.8" cy="814.6" r="2.4" fill="#2a1210" opacity="0.8"/><circle cx="29.4" cy="855.5" r="3.5" fill="#8a3a24" opacity="0.8"/><circle cx="138.9" cy="908.8" r="3.7" fill="#4a2a28" opacity="0.8"/><circle cx="72.2" cy="886.7" r="2.0" fill="#6a2a1c" opacity="0.8"/><circle cx="66.9" cy="929.4" r="3.4" fill="#3a1a16" opacity="0.8"/><circle cx="120.7" cy="856.1" r="3.5" fill="#4a1e18" opacity="0.8"/><circle cx="22.1" cy="775.9" r="2.3" fill="#4a1e18" opacity="0.8"/><circle cx="52.8" cy="801.2" r="2.1" fill="#6a2a1c" opacity="0.8"/><circle cx="21.2" cy="911.6" r="2.1" fill="#5a2418" opacity="0.8"/><circle cx="112.7" cy="784.5" r="3.5" fill="#2a1210" opacity="0.8"/><circle cx="81.7" cy="916.1" r="4.2" fill="#8a3a24" opacity="0.8"/><circle cx="16.4" cy="815.3" r="2.3" fill="#6a2a1c" opacity="0.8"/><circle cx="115.3" cy="789.2" r="3.9" fill="#3a1a16" opacity="0.8"/><circle cx="73.0" cy="799.2" r="4.0" fill="#7a3022" opacity="0.8"/><circle cx="45.1" cy="844.0" r="2.7" fill="#2a1210" opacity="0.8"/><circle cx="39.3" cy="832.2" r="3.8" fill="#2a1210" opacity="0.8"/><circle cx="92.1" cy="874.7" r="2.7" fill="#6a2a1c" opacity="0.8"/><circle cx="120.7" cy="776.9" r="3.3" fill="#5a2418" opacity="0.8"/><circle cx="53.1" cy="925.0" r="3.3" fill="#7a3022" opacity="0.8"/><circle cx="87.9" cy="833.2" r="3.1" fill="#7a3022" opacity="0.8"/><circle cx="44.1" cy="935.1" r="2.1" fill="#2a1210" opacity="0.8"/><circle cx="75.1" cy="878.1" r="4.0" fill="#4a1e18" opacity="0.8"/><circle cx="148.0" cy="900.4" r="4.4" fill="#3a1a16" opacity="0.8"/><circle cx="88.4" cy="805.0" r="4.0" fill="#7a3022" opacity="0.8"/><circle cx="76.2" cy="794.2" r="3.6" fill="#5a2418" opacity="0.8"/><circle cx="85.9" cy="793.0" r="2.8" fill="#5a2418" opacity="0.8"/><circle cx="61.4" cy="856.8" r="4.2" fill="#5a2418" opacity="0.8"/><circle cx="64.6" cy="912.1" r="2.9" fill="#3a1a16" opacity="0.8"/><circle cx="76.7" cy="853.4" r="4.2" fill="#7a3022" opacity="0.8"/><circle cx="144.4" cy="797.9" r="3.5" fill="#6a2a1c" opacity="0.8"/><circle cx="53.3" cy="841.9" r="2.4" fill="#4a2a28" opacity="0.8"/><circle cx="25.9" cy="866.5" r="3.9" fill="#7a3022" opacity="0.8"/><circle cx="19.3" cy="871.6" r="4.2" fill="#7a3022" opacity="0.8"/><circle cx="77.7" cy="828.8" r="3.9" fill="#4a1e18" opacity="0.8"/><circle cx="110.6" cy="902.6" r="2.9" fill="#7a3022" opacity="0.8"/><circle cx="50.2" cy="811.6" r="4.4" fill="#5a2418" opacity="0.8"/><circle cx="25.2" cy="914.7" r="2.5" fill="#4a1e18" opacity="0.8"/><circle cx="112.2" cy="865.7" r="2.5" fill="#5a2418" opacity="0.8"/><circle cx="71.0" cy="772.8" r="4.1" fill="#8a3a24" opacity="0.8"/><circle cx="106.1" cy="880.1" r="3.6" fill="#4a2a28" opacity="0.8"/><circle cx="3.4" cy="826.6" r="3.8" fill="#6a2a1c" opacity="0.8"/><circle cx="65.8" cy="896.3" r="3.9" fill="#8a3a24" opacity="0.8"/><circle cx="129.4" cy="916.9" r="3.6" fill="#7a3022" opacity="0.8"/><circle cx="104.0" cy="911.1" r="3.1" fill="#2a1210" opacity="0.8"/><circle cx="39.8" cy="924.1" r="4.2" fill="#7a3022" opacity="0.8"/><circle cx="96.3" cy="825.0" r="3.1" fill="#4a2a28" opacity="0.8"/><circle cx="3.0" cy="958.9" r="3.3" fill="#4a1e18" opacity="0.8"/><circle cx="136.9" cy="842.2" r="2.0" fill="#4a2a28" opacity="0.8"/><circle cx="139.0" cy="793.4" r="2.6" fill="#7a3022" opacity="0.8"/><circle cx="24.6" cy="942.0" r="4.4" fill="#2a1210" opacity="0.8"/><circle cx="15.5" cy="896.4" r="3.4" fill="#4a2a28" opacity="0.8"/><circle cx="78.4" cy="910.6" r="4.1" fill="#2a1210" opacity="0.8"/><circle cx="32.1" cy="920.6" r="3.0" fill="#5a2418" opacity="0.8"/><circle cx="111.6" cy="905.1" r="3.6" fill="#3a1a16" opacity="0.8"/><circle cx="42.0" cy="857.9" r="2.0" fill="#8a3a24" opacity="0.8"/><circle cx="140.1" cy="908.3" r="3.7" fill="#3a1a16" opacity="0.8"/><circle cx="16.7" cy="836.8" r="3.0" fill="#7a3022" opacity="0.8"/><circle cx="70.7" cy="806.2" r="4.3" fill="#5a2418" opacity="0.8"/><circle cx="123.9" cy="909.5" r="3.2" fill="#7a3022" opacity="0.8"/><circle cx="124.6" cy="802.2" r="3.7" fill="#8a3a24" opacity="0.8"/><circle cx="71.6" cy="834.8" r="3.4" fill="#4a1e18" opacity="0.8"/><circle cx="119.3" cy="873.3" r="4.0" fill="#7a3022" opacity="0.8"/><circle cx="40.9" cy="852.8" r="2.6" fill="#8a3a24" opacity="0.8"/><circle cx="103.9" cy="875.9" r="4.0" fill="#3a1a16" opacity="0.8"/><circle cx="54.8" cy="914.0" r="2.8" fill="#4a2a28" opacity="0.8"/><circle cx="65.6" cy="910.2" r="3.6" fill="#2a1210" opacity="0.8"/><circle cx="23.4" cy="836.7" r="3.0" fill="#5a2418" opacity="0.8"/><circle cx="120.0" cy="800.9" r="4.1" fill="#6a2a1c" opacity="0.8"/><circle cx="100.6" cy="816.1" r="2.2" fill="#3a1a16" opacity="0.8"/><circle cx="38.3" cy="792.3" r="2.4" fill="#7a3022" opacity="0.8"/><circle cx="28.4" cy="869.4" r="4.0" fill="#7a3022" opacity="0.8"/><circle cx="25.7" cy="966.0" r="3.5" fill="#5a2418" opacity="0.8"/><circle cx="30.2" cy="922.4" r="3.3" fill="#4a2a28" opacity="0.8"/><circle cx="102.7" cy="795.7" r="2.3" fill="#8a3a24" opacity="0.8"/><circle cx="35.8" cy="800.7" r="3.2" fill="#6a2a1c" opacity="0.8"/><circle cx="107.2" cy="824.2" r="2.4" fill="#6a2a1c" opacity="0.8"/><circle cx="24.5" cy="840.6" r="3.7" fill="#4a2a28" opacity="0.8"/><circle cx="57.4" cy="862.1" r="4.4" fill="#5a2418" opacity="0.8"/><circle cx="27.6" cy="849.3" r="3.6" fill="#6a2a1c" opacity="0.8"/><circle cx="93.3" cy="920.2" r="4.3" fill="#2a1210" opacity="0.8"/><circle cx="123.7" cy="790.7" r="3.2" fill="#4a1e18" opacity="0.8"/><circle cx="5.2" cy="928.0" r="3.6" fill="#2a1210" opacity="0.8"/><circle cx="14.5" cy="915.0" r="2.9" fill="#7a3022" opacity="0.8"/><circle cx="43.5" cy="845.2" r="2.6" fill="#6a2a1c" opacity="0.8"/><circle cx="126.5" cy="834.4" r="4.1" fill="#8a3a24" opacity="0.8"/><circle cx="133.6" cy="845.9" r="2.5" fill="#4a2a28" opacity="0.8"/><circle cx="121.2" cy="842.8" r="2.8" fill="#3a1a16" opacity="0.8"/><circle cx="61.0" cy="891.9" r="3.0" fill="#6a2a1c" opacity="0.8"/><circle cx="61.0" cy="793.9" r="2.1" fill="#4a2a28" opacity="0.8"/><circle cx="93.1" cy="914.8" r="4.0" fill="#8a3a24" opacity="0.8"/><circle cx="94.4" cy="907.9" r="3.7" fill="#5a2418" opacity="0.8"/><circle cx="32.5" cy="916.7" r="3.1" fill="#4a1e18" opacity="0.8"/><circle cx="15.5" cy="809.9" r="2.1" fill="#5a2418" opacity="0.8"/><circle cx="56.4" cy="951.0" r="4.0" fill="#3a1a16" opacity="0.8"/><circle cx="132.0" cy="810.7" r="2.1" fill="#6a2a1c" opacity="0.8"/><circle cx="65.9" cy="911.2" r="4.3" fill="#6a2a1c" opacity="0.8"/><circle cx="76.2" cy="884.9" r="4.1" fill="#8a3a24" opacity="0.8"/><circle cx="68.3" cy="773.1" r="3.0" fill="#4a1e18" opacity="0.8"/><circle cx="72.7" cy="860.7" r="2.3" fill="#4a2a28" opacity="0.8"/><circle cx="32.5" cy="803.4" r="2.0" fill="#6a2a1c" opacity="0.8"/><circle cx="1.4" cy="917.3" r="4.5" fill="#5a2418" opacity="0.8"/><circle cx="33.4" cy="796.7" r="3.2" fill="#3a1a16" opacity="0.8"/><circle cx="110.1" cy="823.3" r="3.8" fill="#4a1e18" opacity="0.8"/><circle cx="141.2" cy="850.5" r="3.9" fill="#4a1e18" opacity="0.8"/><circle cx="111.6" cy="788.5" r="3.6" fill="#4a2a28" opacity="0.8"/><circle cx="109.7" cy="772.5" r="2.0" fill="#5a2418" opacity="0.8"/><circle cx="59.5" cy="838.7" r="3.5" fill="#4a2a28" opacity="0.8"/><circle cx="93.2" cy="839.6" r="4.4" fill="#4a2a28" opacity="0.8"/><circle cx="71.9" cy="806.6" r="4.4" fill="#5a2418" opacity="0.8"/><circle cx="55.6" cy="911.9" r="3.6" fill="#8a3a24" opacity="0.8"/><circle cx="73.0" cy="941.2" r="3.1" fill="#3a1a16" opacity="0.8"/><circle cx="120.0" cy="894.7" r="2.7" fill="#6a2a1c" opacity="0.8"/><circle cx="95.1" cy="913.2" r="4.0" fill="#2a1210" opacity="0.8"/><circle cx="2.4" cy="803.2" r="4.1" fill="#8a3a24" opacity="0.8"/><circle cx="149.4" cy="824.1" r="3.0" fill="#8a3a24" opacity="0.8"/><circle cx="123.5" cy="832.3" r="2.0" fill="#3a1a16" opacity="0.8"/><circle cx="41.0" cy="804.6" r="4.3" fill="#6a2a1c" opacity="0.8"/><circle cx="44.1" cy="800.9" r="4.2" fill="#4a1e18" opacity="0.8"/><circle cx="41.9" cy="957.3" r="4.0" fill="#4a2a28" opacity="0.8"/><circle cx="53.1" cy="788.7" r="3.4" fill="#8a3a24" opacity="0.8"/><circle cx="30.7" cy="935.0" r="4.3" fill="#7a3022" opacity="0.8"/><circle cx="47.3" cy="782.7" r="3.0" fill="#7a3022" opacity="0.8"/><circle cx="141.7" cy="899.0" r="2.0" fill="#8a3a24" opacity="0.8"/><circle cx="70.3" cy="789.3" r="4.0" fill="#5a2418" opacity="0.8"/></g><rect x="0" y="735" width="45" height="115" rx="3" fill="#a82a22" opacity="0.9"/><rect x="88" y="812" width="20" height="36" rx="3" fill="#c46c44" opacity="0.9"/><rect x="104" y="815" width="14" height="14" rx="3" fill="#b06040" opacity="0.9"/><rect x="115" y="818" width="30" height="40" rx="3" fill="#4a3a48" opacity="0.9"/><rect x="115" y="858" width="28" height="50" rx="3" fill="#48384a" opacity="0.9"/><rect x="32" y="800" width="22" height="20" rx="3" fill="#8a2a20" opacity="0.9"/><rect x="60" y="845" width="16" height="22" rx="3" fill="#6a2a20" opacity="0.9"/><rect x="140" y="790" width="13" height="24" rx="3" fill="#7a3a30" opacity="0.9"/><text transform="translate(0 750) scale(0.9 1)" font-family="Liberation Sans" font-size="10" font-weight="bold" fill="#e8dcd8" opacity="0.55">ll</text><text transform="translate(0 768) scale(0.9 1)" font-family="Liberation Sans" font-size="10" font-weight="bold" fill="#e8dcd8" opacity="0.55">s ooo</text><text transform="translate(0 784) scale(0.9 1)" font-family="Liberation Sans" font-size="10" font-weight="bold" fill="#e8dcd8" opacity="0.55">sl ssso</text><text transform="translate(0 800) scale(0.9 1)" font-family="Liberation Sans" font-size="10" font-weight="bold" fill="#e8dcd8" opacity="0.55">ssslsssl s</text><text transform="translate(0 816) scale(0.9 1)" font-family="Liberation Sans" font-size="10" font-weight="bold" fill="#e8dcd8" opacity="0.55">os sss  ss</text><text transform="translate(0 833) scale(0.9 1)" font-family="Liberation Sans" font-size="10" font-weight="bold" fill="#e8dcd8" opacity="0.55">s sssssss</text><text transform="translate(0 850) scale(0.9 1)" font-family="Liberation Sans" font-size="10" font-weight="bold" fill="#e8dcd8" opacity="0.55">s ss s</text><clipPath id="cBand"><path d="M153,903 C115,932 65,967 0,984 L0,1043 C55,1041 112,1026 153,1013 Z"/></clipPath><g clip-path="url(#cBand)"><rect x="0" y="890" width="160" height="160" fill="#a02e30"/><path d="M160,890 L160,1005 C110,1012 60,1030 0,1036 L0,890 Z" fill="#b03c36"/><path d="M160,890 L160,980 C110,990 60,1012 0,1022 L0,890 Z" fill="#c04e3a"/><path d="M160,890 L160,955 C110,970 60,996 0,1008 L0,890 Z" fill="#cc6440"/><path d="M160,890 L160,928 C110,948 60,980 0,994 L0,890 Z" fill="#d87848"/></g><rect x="128" y="1012" width="22" height="20" rx="4" fill="#c06030"/><rect x="55" y="1044" width="22" height="26" rx="4" fill="#b05a2c"/><rect x="76" y="1058" width="20" height="24" rx="4" fill="#c86a30"/><rect x="115" y="1052" width="18" height="30" rx="4" fill="#b45a30"/><rect x="102" y="1075" width="16" height="22" rx="4" fill="#7a2a20"/><rect x="40" y="1055" width="14" height="16" rx="4" fill="#d07a3a"/><rect x="20" y="1080" width="14" height="28" rx="4" fill="#2a4444"/><rect x="0" y="1094" width="14" height="22" rx="4" fill="#c06834"/><rect x="40" y="1090" width="12" height="12" rx="4" fill="#b8643a"/><rect x="56" y="1092" width="24" height="22" rx="4" fill="#d88040"/><rect x="104" y="1096" width="18" height="24" rx="4" fill="#5a1c24"/><rect x="118" y="1108" width="22" height="18" rx="4" fill="#b86640"/><rect x="132" y="1130" width="20" height="26" rx="4" fill="#d47a3a"/><rect x="40" y="1126" width="12" height="12" rx="4" fill="#983434"/><rect x="18" y="1130" width="12" height="18" rx="4" fill="#802a30"/><rect x="0" y="1122" width="8" height="18" rx="4" fill="#983030"/><rect x="4" y="1150" width="18" height="14" rx="4" fill="#50585e"/><rect x="38" y="1150" width="14" height="12" rx="4" fill="#7a2a2e"/><rect x="100" y="1160" width="8" height="8" rx="4" fill="#d07030"/><rect x="35" y="1178" width="20" height="22" rx="4" fill="#7a1e2a"/><rect x="146" y="1008" width="7" height="62" rx="4" fill="#5a2a2a"/><path d="M0,1050 C40,1046 70,1060 90,1072 L60,1080 C40,1070 20,1072 0,1080 Z" fill="#3a2a34" opacity="0.8"/></g>
<g><text transform="translate(1767 154) scale(0.9 1)" font-family="Liberation Sans" font-size="8" font-weight="normal" fill="#c89a9a" opacity="0.6">ssdssssd dsssd</text><text transform="translate(1767 169) scale(0.9 1)" font-family="Liberation Sans" font-size="8" font-weight="normal" fill="#c89a9a" opacity="0.6">sssss ssss s</text><text transform="translate(1767 180) scale(0.9 1)" font-family="Liberation Sans" font-size="8" font-weight="normal" fill="#b08080" opacity="0.6">sssssssssd 2</text><text transform="translate(1767 193) scale(0.9 1)" font-family="Liberation Sans" font-size="8" font-weight="normal" fill="#b08080" opacity="0.55">ssssss</text><text transform="translate(1767 204) scale(0.9 1)" font-family="Liberation Sans" font-size="8" font-weight="normal" fill="#b08080" opacity="0.55">ssssssss  sssssss</text><text transform="translate(1905 112) scale(0.9 1)" font-family="Liberation Sans" font-size="8" font-weight="normal" fill="#c8d0d4" opacity="0.6">Ss</text><line x1="1825" y1="166" x2="1890" y2="166" stroke="#6a7a82" stroke-width="1" stroke-dasharray="2 2" opacity="0.45"/><line x1="1825" y1="180" x2="1890" y2="180" stroke="#6a7a82" stroke-width="1" stroke-dasharray="2 2" opacity="0.45"/><path d="M1767,242 C1800,240 1830,244 1860,242 C1880,240 1900,243 1920,241 L1920,244 L1767,245 Z" fill="#3aa0aa" opacity="0.75"/><line x1="1767" y1="254" x2="1920" y2="254" stroke="#587a80" stroke-width="1" opacity="0.55"/><line x1="1767" y1="264" x2="1920" y2="264" stroke="#587a80" stroke-width="1" opacity="0.55"/><line x1="1767" y1="274" x2="1920" y2="274" stroke="#587a80" stroke-width="1" opacity="0.55"/><line x1="1767" y1="285" x2="1920" y2="285" stroke="#587a80" stroke-width="1" opacity="0.55"/><line x1="1767" y1="294" x2="1920" y2="294" stroke="#587a80" stroke-width="1" opacity="0.55"/><line x1="1767" y1="304" x2="1920" y2="304" stroke="#587a80" stroke-width="1" opacity="0.55"/><line x1="1874" y1="125" x2="1874" y2="300" stroke="#46565e" stroke-width="1" opacity="0.6"/><rect x="1767" y="520" width="153" height="180" fill="url(#gTealR)"/><rect x="1767" y="309" width="30" height="83" fill="#f2c67e"/><rect x="1767" y="392" width="30" height="110" fill="#eba462"/><rect x="1767" y="502" width="30" height="26" fill="#e5522e"/><rect x="1767" y="527" width="30" height="48" fill="#d06666"/><rect x="1767" y="575" width="30" height="125" fill="url(#gTealCol)"/><rect x="1795" y="309" width="2" height="391" fill="#000" opacity="0.18"/><rect x="1797" y="321" width="29" height="93" fill="#f2c67e"/><rect x="1797" y="414" width="29" height="71" fill="#eba462"/><rect x="1797" y="485" width="29" height="6" fill="#e5522e"/><rect x="1797" y="490" width="29" height="73" fill="#d06666"/><rect x="1797" y="563" width="29" height="137" fill="url(#gTealCol)"/><rect x="1824" y="321" width="2" height="379" fill="#000" opacity="0.18"/><rect x="1826" y="302" width="30" height="93" fill="#f2c67e"/><rect x="1826" y="395" width="30" height="87" fill="#eba462"/><rect x="1826" y="482" width="30" height="6" fill="#e5522e"/><rect x="1826" y="487" width="30" height="64" fill="#d06666"/><rect x="1826" y="551" width="30" height="149" fill="url(#gTealCol)"/><rect x="1854" y="302" width="2" height="398" fill="#000" opacity="0.18"/><rect x="1856" y="323" width="30" height="71" fill="#f2c67e"/><rect x="1856" y="394" width="30" height="75" fill="#eba462"/><rect x="1856" y="469" width="30" height="1" fill="#e5522e"/><rect x="1856" y="469" width="30" height="69" fill="#d06666"/><rect x="1856" y="538" width="30" height="162" fill="url(#gTealCol)"/><rect x="1884" y="323" width="2" height="377" fill="#000" opacity="0.18"/><rect x="1886" y="355" width="29" height="39" fill="#f2c67e"/><rect x="1886" y="394" width="29" height="63" fill="#eba462"/><rect x="1886" y="457" width="29" height="1" fill="#e5522e"/><rect x="1886" y="457" width="29" height="70" fill="#d06666"/><rect x="1886" y="527" width="29" height="173" fill="url(#gTealCol)"/><rect x="1913" y="355" width="2" height="345" fill="#000" opacity="0.18"/><rect x="1915" y="396" width="5" height="0" fill="#f2c67e"/><rect x="1915" y="396" width="5" height="54" fill="#eba462"/><rect x="1915" y="450" width="5" height="1" fill="#e5522e"/><rect x="1915" y="450" width="5" height="70" fill="#d06666"/><rect x="1915" y="520" width="5" height="180" fill="url(#gTealCol)"/><rect x="1918" y="396" width="2" height="304" fill="#000" opacity="0.18"/><path d="M1767,529 C1790,512 1815,494 1856,486 L1856,560 L1767,575 Z" fill="#cc6262"/><rect x="1795" y="480" width="2" height="100" fill="#000" opacity="0.18"/><rect x="1824" y="480" width="2" height="100" fill="#000" opacity="0.18"/><path d="M1767,621 L1785,623 L1800,640 L1815,648 L1840,660 L1860,668 L1885,680 L1920,693 L1920,700 L1767,700 Z" fill="#7fcdd6"/><path d="M1767,670 L1800,674 L1840,680 L1880,688 L1920,694 L1920,700 L1767,693 Z" fill="#b01d14"/><rect x="1767" y="692" width="153" height="100" fill="url(#gDarkR)"/><rect x="1767" y="789" width="153" height="390" fill="#1c2a33"/><rect x="1767" y="789" width="153" height="390" fill="url(#pGridR)" opacity="0.6"/><line x1="1767" y1="789" x2="1920" y2="789" stroke="#3c4c55" stroke-width="1.5"/><rect x="1880" y="866" width="40" height="300" fill="#a8442e"/><rect x="1896" y="876" width="24" height="87" fill="#e6a67a"/><rect x="1896" y="962" width="24" height="204" fill="#e9e0da"/><rect x="1842" y="889" width="38" height="80" fill="#dc9a74"/><rect x="1845" y="966" width="35" height="200" fill="#e8ded6"/><rect x="1799" y="929" width="39" height="72" fill="#e29c70"/><rect x="1767" y="970" width="84" height="196" fill="#c85236"/><rect x="1790" y="980" width="55" height="92" fill="#dc7a4c" opacity="0.75"/><rect x="1866" y="1025" width="27" height="141" fill="#c45a5c"/><rect x="1791" y="1076" width="60" height="90" fill="#b44848"/><rect x="1767" y="1076" width="24" height="90" fill="#d46a4c"/><text transform="translate(1771 1034) scale(0.9 1)" font-family="Liberation Sans" font-size="10" font-weight="bold" fill="#f4e0d0" opacity="0.65">DddSSSSSsl</text><text transform="translate(1771 1048) scale(0.9 1)" font-family="Liberation Sans" font-size="10" font-weight="bold" fill="#f4e0d0" opacity="0.65">s  Ssd</text><text transform="translate(1771 1060) scale(0.9 1)" font-family="Liberation Sans" font-size="10" font-weight="bold" fill="#f4e0d0" opacity="0.65">ssssso..</text><text transform="translate(1771 1070) scale(0.9 1)" font-family="Liberation Sans" font-size="10" font-weight="bold" fill="#f4e0d0" opacity="0.65">sssssssss</text><rect x="1808" y="940" width="6" height="7" fill="#3a2020" opacity="0.75"/><rect x="1820" y="940" width="6" height="7" fill="#3a2020" opacity="0.75"/><rect x="1808" y="952" width="6" height="7" fill="#3a2020" opacity="0.75"/><rect x="1820" y="952" width="6" height="7" fill="#3a2020" opacity="0.75"/><rect x="1808" y="964" width="6" height="7" fill="#3a2020" opacity="0.75"/><rect x="1820" y="964" width="6" height="7" fill="#3a2020" opacity="0.75"/><rect x="1808" y="976" width="6" height="7" fill="#3a2020" opacity="0.75"/><rect x="1856" y="922" width="6" height="7" fill="#3a2020" opacity="0.75"/><rect x="1857" y="942" width="6" height="7" fill="#3a2020" opacity="0.75"/><rect x="1898" y="905" width="6" height="7" fill="#3a2020" opacity="0.75"/><rect x="1898" y="925" width="6" height="7" fill="#3a2020" opacity="0.75"/><rect x="1767" y="1161" width="153" height="12" fill="#d88a8c"/><rect x="1767" y="1173" width="153" height="62" fill="#26353e"/></g>
</svg>
<div class="page"></div>
<div class="box"></div>
<svg style="position:absolute;left:0;top:0" width="400" height="400"><path fill-rule="evenodd" fill="#00acd5" d="M250,277.2 L259.6,219 L272.2,219 L281.4,277.2 L272.2,277.2 L270.6,266 L260.6,266 L259,277.2 Z M262.1,256.7 L265.5,229 L268.8,256.7 Z"/></svg>
<div class="orow" style="top:323.00px;height:26.6px"></div>
<div class="orow" style="top:375.24px;height:26.6px"></div>
<div class="orow" style="top:427.48px;height:26.6px"></div>
<div class="orow" style="top:479.72px;height:26.6px"></div>
<div class="orow" style="top:531.96px;height:26.6px"></div>
<div class="pn" style="left:866px"></div><div class="pn" style="left:1023px"></div>
<svg class="chart" width="1920" height="1358" viewBox="0 0 1920 1358">
<line x1="1040" y1="701.5" x2="1711" y2="701.5" stroke="#cfcfcf" stroke-width="1.2"/>
<polyline points="1133.5,956 1133.5,760.5 1279,724 1498,724 1498,763" fill="none" stroke="#6a6a6a" stroke-width="1"/>
<line x1="1279" y1="724" x2="1279" y2="733" stroke="#222" stroke-width="1.2"/>
<line x1="1133.5" y1="775" x2="1137" y2="774" stroke="#6a6a6a" stroke-width="0.8"/>
<line x1="1133.5" y1="785" x2="1137" y2="784" stroke="#6a6a6a" stroke-width="0.8"/>
<line x1="1133.5" y1="795" x2="1137" y2="794" stroke="#6a6a6a" stroke-width="0.8"/>
<line x1="1133.5" y1="805" x2="1137" y2="804" stroke="#6a6a6a" stroke-width="0.8"/>
<line x1="1133.5" y1="815" x2="1137" y2="814" stroke="#6a6a6a" stroke-width="0.8"/>
<line x1="1133.5" y1="825" x2="1137" y2="824" stroke="#6a6a6a" stroke-width="0.8"/>
<line x1="1133.5" y1="835" x2="1137" y2="834" stroke="#6a6a6a" stroke-width="0.8"/>
<line x1="1133.5" y1="845" x2="1137" y2="844" stroke="#6a6a6a" stroke-width="0.8"/>
<line x1="1133.5" y1="855" x2="1137" y2="854" stroke="#6a6a6a" stroke-width="0.8"/>
<line x1="1133.5" y1="865" x2="1137" y2="864" stroke="#6a6a6a" stroke-width="0.8"/>
<line x1="1133.5" y1="875" x2="1137" y2="874" stroke="#6a6a6a" stroke-width="0.8"/>
<line x1="1133.5" y1="885" x2="1137" y2="884" stroke="#6a6a6a" stroke-width="0.8"/>
<line x1="1133.5" y1="895" x2="1137" y2="894" stroke="#6a6a6a" stroke-width="0.8"/>
<line x1="1133.5" y1="905" x2="1137" y2="904" stroke="#6a6a6a" stroke-width="0.8"/>
<line x1="1133.5" y1="915" x2="1137" y2="914" stroke="#6a6a6a" stroke-width="0.8"/>
<line x1="1133.5" y1="925" x2="1137" y2="924" stroke="#6a6a6a" stroke-width="0.8"/>
<line x1="1133.5" y1="935" x2="1137" y2="934" stroke="#6a6a6a" stroke-width="0.8"/>
<line x1="1133.5" y1="945" x2="1137" y2="944" stroke="#6a6a6a" stroke-width="0.8"/>
<line x1="1133.5" y1="955" x2="1137" y2="954" stroke="#6a6a6a" stroke-width="0.8"/>
<line x1="1495" y1="728" x2="1498" y2="728" stroke="#6a6a6a" stroke-width="0.8"/>
<line x1="1495" y1="736" x2="1498" y2="736" stroke="#6a6a6a" stroke-width="0.8"/>
<line x1="1495" y1="744" x2="1498" y2="744" stroke="#6a6a6a" stroke-width="0.8"/>
<line x1="1495" y1="752" x2="1498" y2="752" stroke="#6a6a6a" stroke-width="0.8"/>
<line x1="1495" y1="760" x2="1498" y2="760" stroke="#6a6a6a" stroke-width="0.8"/>
<polygon points="1269.3,752.0 1280.4,747.1 1280.4,808.1 1269.3,819.0" fill="#6e6c2a" stroke="#a0562e" stroke-width="0.5"/><polygon points="1265.0,752.0 1269.3,752.0 1280.4,747.1 1276.5,747.1" fill="#8a8a3a" stroke="#a0562e" stroke-width="0.5"/><polygon points="1265.0,752.0 1269.3,752.0 1269.3,819.0 1265.0,819.0" fill="#7d7b32" stroke="#a0562e" stroke-width="0.5"/><polygon points="1275.5,732.0 1286.0,728.9 1286.0,808.1 1275.5,819.0" fill="#6e6c2a" stroke="#a0562e" stroke-width="0.5"/><polygon points="1271.2,732.0 1275.5,732.0 1286.0,728.9 1282.1,728.9" fill="#8a8a3a" stroke="#a0562e" stroke-width="0.5"/><polygon points="1271.2,732.0 1275.5,732.0 1275.5,819.0 1271.2,819.0" fill="#7d7b32" stroke="#a0562e" stroke-width="0.5"/><polygon points="1504.8,769.0 1494.8,762.6 1494.8,808.1 1504.8,819.0" fill="#6e6c2a" stroke="#a0562e" stroke-width="0.5"/><polygon points="1504.8,769.0 1509.2,769.0 1498.7,762.6 1494.8,762.6" fill="#8a8a3a" stroke="#a0562e" stroke-width="0.5"/><polygon points="1504.8,769.0 1509.2,769.0 1509.2,819.0 1504.8,819.0" fill="#7d7b32" stroke="#a0562e" stroke-width="0.5"/><polygon points="1281.6,732.0 1291.6,728.9 1291.6,808.1 1281.6,819.0" fill="#6e6c2a" stroke="#a0562e" stroke-width="0.5"/><polygon points="1277.3,732.0 1281.6,732.0 1291.6,728.9 1287.7,728.9" fill="#8a8a3a" stroke="#a0562e" stroke-width="0.5"/><polygon points="1277.3,732.0 1281.6,732.0 1281.6,819.0 1277.3,819.0" fill="#7d7b32" stroke="#a0562e" stroke-width="0.5"/><polygon points="1498.7,769.0 1489.2,762.6 1489.2,808.1 1498.7,819.0" fill="#6e6c2a" stroke="#a0562e" stroke-width="0.5"/><polygon points="1498.7,769.0 1503.0,769.0 1493.1,762.6 1489.2,762.6" fill="#8a8a3a" stroke="#a0562e" stroke-width="0.5"/><polygon points="1498.7,769.0 1503.0,769.0 1503.0,819.0 1498.7,819.0" fill="#7d7b32" stroke="#a0562e" stroke-width="0.5"/><polygon points="1287.8,732.0 1297.2,728.9 1297.2,808.1 1287.8,819.0" fill="#6e6c2a" stroke="#a0562e" stroke-width="0.5"/><polygon points="1283.5,732.0 1287.8,732.0 1297.2,728.9 1293.3,728.9" fill="#8a8a3a" stroke="#a0562e" stroke-width="0.5"/><polygon points="1283.5,732.0 1287.8,732.0 1287.8,819.0 1283.5,819.0" fill="#7d7b32" stroke="#a0562e" stroke-width="0.5"/><polygon points="1492.5,769.0 1483.6,762.6 1483.6,808.1 1492.5,819.0" fill="#6e6c2a" stroke="#a0562e" stroke-width="0.5"/><polygon points="1492.5,769.0 1496.9,769.0 1487.5,762.6 1483.6,762.6" fill="#8a8a3a" stroke="#a0562e" stroke-width="0.5"/><polygon points="1492.5,769.0 1496.9,769.0 1496.9,819.0 1492.5,819.0" fill="#7d7b32" stroke="#a0562e" stroke-width="0.5"/><polygon points="1293.9,746.0 1302.8,741.7 1302.8,808.1 1293.9,819.0" fill="#6e6c2a" stroke="#a0562e" stroke-width="0.5"/><polygon points="1289.6,746.0 1293.9,746.0 1302.8,741.7 1298.9,741.7" fill="#8a8a3a" stroke="#a0562e" stroke-width="0.5"/><polygon points="1289.6,746.0 1293.9,746.0 1293.9,819.0 1289.6,819.0" fill="#7d7b32" stroke="#a0562e" stroke-width="0.5"/><polygon points="1486.4,769.0 1478.0,762.6 1478.0,808.1 1486.4,819.0" fill="#6e6c2a" stroke="#a0562e" stroke-width="0.5"/><polygon points="1486.4,769.0 1490.7,769.0 1481.9,762.6 1478.0,762.6" fill="#8a8a3a" stroke="#a0562e" stroke-width="0.5"/><polygon points="1486.4,769.0 1490.7,769.0 1490.7,819.0 1486.4,819.0" fill="#7d7b32" stroke="#a0562e" stroke-width="0.5"/><polygon points="1300.1,771.0 1308.4,764.4 1308.4,808.1 1300.1,819.0" fill="#6e6c2a" stroke="#a0562e" stroke-width="0.5"/><polygon points="1295.8,771.0 1300.1,771.0 1308.4,764.4 1304.5,764.4" fill="#8a8a3a" stroke="#a0562e" stroke-width="0.5"/><polygon points="1295.8,771.0 1300.1,771.0 1300.1,819.0 1295.8,819.0" fill="#7d7b32" stroke="#a0562e" stroke-width="0.5"/><polygon points="1480.2,769.0 1472.4,762.6 1472.4,808.1 1480.2,819.0" fill="#6e6c2a" stroke="#a0562e" stroke-width="0.5"/><polygon points="1480.2,769.0 1484.6,769.0 1476.3,762.6 1472.4,762.6" fill="#8a8a3a" stroke="#a0562e" stroke-width="0.5"/><polygon points="1480.2,769.0 1484.6,769.0 1484.6,819.0 1480.2,819.0" fill="#7d7b32" stroke="#a0562e" stroke-width="0.5"/><polygon points="1306.2,776.0 1314.0,769.0 1314.0,808.1 1306.2,819.0" fill="#6e6c2a" stroke="#a0562e" stroke-width="0.5"/><polygon points="1301.9,776.0 1306.2,776.0 1314.0,769.0 1310.1,769.0" fill="#8a8a3a" stroke="#a0562e" stroke-width="0.5"/><polygon points="1301.9,776.0 1306.2,776.0 1306.2,819.0 1301.9,819.0" fill="#7d7b32" stroke="#a0562e" stroke-width="0.5"/><polygon points="1474.1,769.0 1466.8,762.6 1466.8,808.1 1474.1,819.0" fill="#6e6c2a" stroke="#a0562e" stroke-width="0.5"/><polygon points="1474.1,769.0 1478.4,769.0 1470.7,762.6 1466.8,762.6" fill="#8a8a3a" stroke="#a0562e" stroke-width="0.5"/><polygon points="1474.1,769.0 1478.4,769.0 1478.4,819.0 1474.1,819.0" fill="#7d7b32" stroke="#a0562e" stroke-width="0.5"/><polygon points="1312.4,789.0 1319.6,780.8 1319.6,808.1 1312.4,819.0" fill="#6e6c2a" stroke="#a0562e" stroke-width="0.5"/><polygon points="1308.0,789.0 1312.4,789.0 1319.6,780.8 1315.7,780.8" fill="#8a8a3a" stroke="#a0562e" stroke-width="0.5"/><polygon points="1308.0,789.0 1312.4,789.0 1312.4,819.0 1308.0,819.0" fill="#7d7b32" stroke="#a0562e" stroke-width="0.5"/><polygon points="1468.0,769.0 1461.2,762.6 1461.2,808.1 1468.0,819.0" fill="#6e6c2a" stroke="#a0562e" stroke-width="0.5"/><polygon points="1468.0,769.0 1472.3,769.0 1465.1,762.6 1461.2,762.6" fill="#8a8a3a" stroke="#a0562e" stroke-width="0.5"/><polygon points="1468.0,769.0 1472.3,769.0 1472.3,819.0 1468.0,819.0" fill="#7d7b32" stroke="#a0562e" stroke-width="0.5"/><polygon points="1318.5,789.0 1325.2,780.8 1325.2,808.1 1318.5,819.0" fill="#6e6c2a" stroke="#a0562e" stroke-width="0.5"/><polygon points="1314.2,789.0 1318.5,789.0 1325.2,780.8 1321.3,780.8" fill="#8a8a3a" stroke="#a0562e" stroke-width="0.5"/><polygon points="1314.2,789.0 1318.5,789.0 1318.5,819.0 1314.2,819.0" fill="#7d7b32" stroke="#a0562e" stroke-width="0.5"/><polygon points="1461.8,769.0 1455.6,762.6 1455.6,808.1 1461.8,819.0" fill="#6e6c2a" stroke="#a0562e" stroke-width="0.5"/><polygon points="1461.8,769.0 1466.1,769.0 1459.5,762.6 1455.6,762.6" fill="#8a8a3a" stroke="#a0562e" stroke-width="0.5"/><polygon points="1461.8,769.0 1466.1,769.0 1466.1,819.0 1461.8,819.0" fill="#7d7b32" stroke="#a0562e" stroke-width="0.5"/><polygon points="1324.7,789.0 1330.8,780.8 1330.8,808.1 1324.7,819.0" fill="#6e6c2a" stroke="#a0562e" stroke-width="0.5"/><polygon points="1320.3,789.0 1324.7,789.0 1330.8,780.8 1326.9,780.8" fill="#8a8a3a" stroke="#a0562e" stroke-width="0.5"/><polygon points="1320.3,789.0 1324.7,789.0 1324.7,819.0 1320.3,819.0" fill="#7d7b32" stroke="#a0562e" stroke-width="0.5"/><polygon points="1455.7,769.0 1450.0,762.6 1450.0,808.1 1455.7,819.0" fill="#6e6c2a" stroke="#a0562e" stroke-width="0.5"/><polygon points="1455.7,769.0 1460.0,769.0 1453.9,762.6 1450.0,762.6" fill="#8a8a3a" stroke="#a0562e" stroke-width="0.5"/><polygon points="1455.7,769.0 1460.0,769.0 1460.0,819.0 1455.7,819.0" fill="#7d7b32" stroke="#a0562e" stroke-width="0.5"/><polygon points="1330.8,789.0 1336.4,780.8 1336.4,808.1 1330.8,819.0" fill="#6e6c2a" stroke="#a0562e" stroke-width="0.5"/><polygon points="1326.5,789.0 1330.8,789.0 1336.4,780.8 1332.5,780.8" fill="#8a8a3a" stroke="#a0562e" stroke-width="0.5"/><polygon points="1326.5,789.0 1330.8,789.0 1330.8,819.0 1326.5,819.0" fill="#7d7b32" stroke="#a0562e" stroke-width="0.5"/><polygon points="1449.5,769.0 1444.4,762.6 1444.4,808.1 1449.5,819.0" fill="#6e6c2a" stroke="#a0562e" stroke-width="0.5"/><polygon points="1449.5,769.0 1453.8,769.0 1448.3,762.6 1444.4,762.6" fill="#8a8a3a" stroke="#a0562e" stroke-width="0.5"/><polygon points="1449.5,769.0 1453.8,769.0 1453.8,819.0 1449.5,819.0" fill="#7d7b32" stroke="#a0562e" stroke-width="0.5"/><polygon points="1337.0,789.0 1342.0,780.8 1342.0,808.1 1337.0,819.0" fill="#6e6c2a" stroke="#a0562e" stroke-width="0.5"/><polygon points="1332.7,789.0 1337.0,789.0 1342.0,780.8 1338.1,780.8" fill="#8a8a3a" stroke="#a0562e" stroke-width="0.5"/><polygon points="1332.7,789.0 1337.0,789.0 1337.0,819.0 1332.7,819.0" fill="#7d7b32" stroke="#a0562e" stroke-width="0.5"/><polygon points="1443.3,769.0 1438.8,762.6 1438.8,808.1 1443.3,819.0" fill="#6e6c2a" stroke="#a0562e" stroke-width="0.5"/><polygon points="1443.3,769.0 1447.7,769.0 1442.7,762.6 1438.8,762.6" fill="#8a8a3a" stroke="#a0562e" stroke-width="0.5"/><polygon points="1443.3,769.0 1447.7,769.0 1447.7,819.0 1443.3,819.0" fill="#7d7b32" stroke="#a0562e" stroke-width="0.5"/><polygon points="1343.1,789.0 1347.6,780.8 1347.6,808.1 1343.1,819.0" fill="#6e6c2a" stroke="#a0562e" stroke-width="0.5"/><polygon points="1338.8,789.0 1343.1,789.0 1347.6,780.8 1343.7,780.8" fill="#8a8a3a" stroke="#a0562e" stroke-width="0.5"/><polygon points="1338.8,789.0 1343.1,789.0 1343.1,819.0 1338.8,819.0" fill="#7d7b32" stroke="#a0562e" stroke-width="0.5"/><polygon points="1437.2,769.0 1433.2,762.6 1433.2,808.1 1437.2,819.0" fill="#6e6c2a" stroke="#a0562e" stroke-width="0.5"/><polygon points="1437.2,769.0 1441.5,769.0 1437.1,762.6 1433.2,762.6" fill="#8a8a3a" stroke="#a0562e" stroke-width="0.5"/><polygon points="1437.2,769.0 1441.5,769.0 1441.5,819.0 1437.2,819.0" fill="#7d7b32" stroke="#a0562e" stroke-width="0.5"/><polygon points="1349.3,789.0 1353.2,780.8 1353.2,808.1 1349.3,819.0" fill="#6e6c2a" stroke="#a0562e" stroke-width="0.5"/><polygon points="1345.0,789.0 1349.3,789.0 1353.2,780.8 1349.3,780.8" fill="#8a8a3a" stroke="#a0562e" stroke-width="0.5"/><polygon points="1345.0,789.0 1349.3,789.0 1349.3,819.0 1345.0,819.0" fill="#7d7b32" stroke="#a0562e" stroke-width="0.5"/><polygon points="1431.0,769.0 1427.6,762.6 1427.6,808.1 1431.0,819.0" fill="#6e6c2a" stroke="#a0562e" stroke-width="0.5"/><polygon points="1431.0,769.0 1435.4,769.0 1431.5,762.6 1427.6,762.6" fill="#8a8a3a" stroke="#a0562e" stroke-width="0.5"/><polygon points="1431.0,769.0 1435.4,769.0 1435.4,819.0 1431.0,819.0" fill="#7d7b32" stroke="#a0562e" stroke-width="0.5"/><polygon points="1355.4,769.0 1358.8,762.6 1358.8,808.1 1355.4,819.0" fill="#6e6c2a" stroke="#a0562e" stroke-width="0.5"/><polygon points="1351.1,769.0 1355.4,769.0 1358.8,762.6 1354.9,762.6" fill="#8a8a3a" stroke="#a0562e" stroke-width="0.5"/><polygon points="1351.1,769.0 1355.4,769.0 1355.4,819.0 1351.1,819.0" fill="#7d7b32" stroke="#a0562e" stroke-width="0.5"/><polygon points="1424.9,769.0 1422.0,762.6 1422.0,808.1 1424.9,819.0" fill="#6e6c2a" stroke="#a0562e" stroke-width="0.5"/><polygon points="1424.9,769.0 1429.2,769.0 1425.9,762.6 1422.0,762.6" fill="#8a8a3a" stroke="#a0562e" stroke-width="0.5"/><polygon points="1424.9,769.0 1429.2,769.0 1429.2,819.0 1424.9,819.0" fill="#7d7b32" stroke="#a0562e" stroke-width="0.5"/><polygon points="1361.6,769.0 1364.4,762.6 1364.4,808.1 1361.6,819.0" fill="#6e6c2a" stroke="#a0562e" stroke-width="0.5"/><polygon points="1357.2,769.0 1361.6,769.0 1364.4,762.6 1360.5,762.6" fill="#8a8a3a" stroke="#a0562e" stroke-width="0.5"/><polygon points="1357.2,769.0 1361.6,769.0 1361.6,819.0 1357.2,819.0" fill="#7d7b32" stroke="#a0562e" stroke-width="0.5"/><polygon points="1418.8,769.0 1416.4,762.6 1416.4,808.1 1418.8,819.0" fill="#6e6c2a" stroke="#a0562e" stroke-width="0.5"/><polygon points="1418.8,769.0 1423.1,769.0 1420.4,762.6 1416.4,762.6" fill="#8a8a3a" stroke="#a0562e" stroke-width="0.5"/><polygon points="1418.8,769.0 1423.1,769.0 1423.1,819.0 1418.8,819.0" fill="#7d7b32" stroke="#a0562e" stroke-width="0.5"/><polygon points="1367.7,769.0 1370.0,762.6 1370.0,808.1 1367.7,819.0" fill="#6e6c2a" stroke="#a0562e" stroke-width="0.5"/><polygon points="1363.4,769.0 1367.7,769.0 1370.0,762.6 1366.1,762.6" fill="#8a8a3a" stroke="#a0562e" stroke-width="0.5"/><polygon points="1363.4,769.0 1367.7,769.0 1367.7,819.0 1363.4,819.0" fill="#7d7b32" stroke="#a0562e" stroke-width="0.5"/><polygon points="1412.6,769.0 1410.8,762.6 1410.8,808.1 1412.6,819.0" fill="#6e6c2a" stroke="#a0562e" stroke-width="0.5"/><polygon points="1412.6,769.0 1416.9,769.0 1414.8,762.6 1410.8,762.6" fill="#8a8a3a" stroke="#a0562e" stroke-width="0.5"/><polygon points="1412.6,769.0 1416.9,769.0 1416.9,819.0 1412.6,819.0" fill="#7d7b32" stroke="#a0562e" stroke-width="0.5"/><polygon points="1373.9,769.0 1375.6,762.6 1375.6,808.1 1373.9,819.0" fill="#6e6c2a" stroke="#a0562e" stroke-width="0.5"/><polygon points="1369.5,769.0 1373.9,769.0 1375.6,762.6 1371.7,762.6" fill="#8a8a3a" stroke="#a0562e" stroke-width="0.5"/><polygon points="1369.5,769.0 1373.9,769.0 1373.9,819.0 1369.5,819.0" fill="#7d7b32" stroke="#a0562e" stroke-width="0.5"/><polygon points="1406.5,769.0 1405.2,762.6 1405.2,808.1 1406.5,819.0" fill="#6e6c2a" stroke="#a0562e" stroke-width="0.5"/><polygon points="1406.5,769.0 1410.8,769.0 1409.2,762.6 1405.2,762.6" fill="#8a8a3a" stroke="#a0562e" stroke-width="0.5"/><polygon points="1406.5,769.0 1410.8,769.0 1410.8,819.0 1406.5,819.0" fill="#7d7b32" stroke="#a0562e" stroke-width="0.5"/><polygon points="1380.0,769.0 1381.2,762.6 1381.2,808.1 1380.0,819.0" fill="#6e6c2a" stroke="#a0562e" stroke-width="0.5"/><polygon points="1375.7,769.0 1380.0,769.0 1381.2,762.6 1377.3,762.6" fill="#8a8a3a" stroke="#a0562e" stroke-width="0.5"/><polygon points="1375.7,769.0 1380.0,769.0 1380.0,819.0 1375.7,819.0" fill="#7d7b32" stroke="#a0562e" stroke-width="0.5"/><polygon points="1400.3,769.0 1399.6,762.6 1399.6,808.1 1400.3,819.0" fill="#6e6c2a" stroke="#a0562e" stroke-width="0.5"/><polygon points="1400.3,769.0 1404.6,769.0 1403.6,762.6 1399.6,762.6" fill="#8a8a3a" stroke="#a0562e" stroke-width="0.5"/><polygon points="1400.3,769.0 1404.6,769.0 1404.6,819.0 1400.3,819.0" fill="#7d7b32" stroke="#a0562e" stroke-width="0.5"/><polygon points="1386.2,769.0 1386.8,762.6 1386.8,808.1 1386.2,819.0" fill="#6e6c2a" stroke="#a0562e" stroke-width="0.5"/><polygon points="1381.8,769.0 1386.2,769.0 1386.8,762.6 1382.9,762.6" fill="#8a8a3a" stroke="#a0562e" stroke-width="0.5"/><polygon points="1381.8,769.0 1386.2,769.0 1386.2,819.0 1381.8,819.0" fill="#7d7b32" stroke="#a0562e" stroke-width="0.5"/><polygon points="1394.2,769.0 1394.0,762.6 1394.0,808.1 1394.2,819.0" fill="#6e6c2a" stroke="#a0562e" stroke-width="0.5"/><polygon points="1394.2,769.0 1398.5,769.0 1398.0,762.6 1394.0,762.6" fill="#8a8a3a" stroke="#a0562e" stroke-width="0.5"/><polygon points="1394.2,769.0 1398.5,769.0 1398.5,819.0 1394.2,819.0" fill="#7d7b32" stroke="#a0562e" stroke-width="0.5"/><polygon points="1392.3,769.0 1392.4,762.6 1392.4,808.1 1392.3,819.0" fill="#6e6c2a" stroke="#a0562e" stroke-width="0.5"/><polygon points="1388.0,769.0 1392.3,769.0 1392.4,762.6 1388.5,762.6" fill="#8a8a3a" stroke="#a0562e" stroke-width="0.5"/><polygon points="1388.0,769.0 1392.3,769.0 1392.3,819.0 1388.0,819.0" fill="#7d7b32" stroke="#a0562e" stroke-width="0.5"/>
<polygon points="1247.9,831.0 1265.3,815.0 1265.3,828.2 1247.9,846.0" fill="#7e8287" stroke="#a06060" stroke-width="0.5"/><polygon points="1241.0,831.0 1247.9,831.0 1265.3,815.0 1259.2,815.0" fill="#9a9ea3" stroke="#a06060" stroke-width="0.5"/><polygon points="1241.0,831.0 1247.9,831.0 1247.9,846.0 1241.0,846.0" fill="#8b8f94" stroke="#a06060" stroke-width="0.5"/><polygon points="1257.7,834.0 1273.9,817.7 1273.9,828.2 1257.7,846.0" fill="#7e8287" stroke="#a06060" stroke-width="0.5"/><polygon points="1250.8,834.0 1257.7,834.0 1273.9,817.7 1267.9,817.7" fill="#9a9ea3" stroke="#a06060" stroke-width="0.5"/><polygon points="1250.8,834.0 1257.7,834.0 1257.7,846.0 1250.8,846.0" fill="#8b8f94" stroke="#a06060" stroke-width="0.5"/><polygon points="1525.2,818.0 1509.3,803.6 1509.3,828.2 1525.2,846.0" fill="#7e8287" stroke="#a06060" stroke-width="0.5"/><polygon points="1525.2,818.0 1532.1,818.0 1515.4,803.6 1509.3,803.6" fill="#9a9ea3" stroke="#a06060" stroke-width="0.5"/><polygon points="1525.2,818.0 1532.1,818.0 1532.1,846.0 1525.2,846.0" fill="#8b8f94" stroke="#a06060" stroke-width="0.5"/><polygon points="1267.5,831.0 1282.5,815.0 1282.5,828.2 1267.5,846.0" fill="#7e8287" stroke="#a06060" stroke-width="0.5"/><polygon points="1260.6,831.0 1267.5,831.0 1282.5,815.0 1276.5,815.0" fill="#9a9ea3" stroke="#a06060" stroke-width="0.5"/><polygon points="1260.6,831.0 1267.5,831.0 1267.5,846.0 1260.6,846.0" fill="#8b8f94" stroke="#a06060" stroke-width="0.5"/><polygon points="1515.4,818.0 1500.7,803.6 1500.7,828.2 1515.4,846.0" fill="#7e8287" stroke="#a06060" stroke-width="0.5"/><polygon points="1515.4,818.0 1522.3,818.0 1506.7,803.6 1500.7,803.6" fill="#9a9ea3" stroke="#a06060" stroke-width="0.5"/><polygon points="1515.4,818.0 1522.3,818.0 1522.3,846.0 1515.4,846.0" fill="#8b8f94" stroke="#a06060" stroke-width="0.5"/><polygon points="1277.3,831.0 1291.1,815.0 1291.1,828.2 1277.3,846.0" fill="#7e8287" stroke="#a06060" stroke-width="0.5"/><polygon points="1270.4,831.0 1277.3,831.0 1291.1,815.0 1285.1,815.0" fill="#9a9ea3" stroke="#a06060" stroke-width="0.5"/><polygon points="1270.4,831.0 1277.3,831.0 1277.3,846.0 1270.4,846.0" fill="#8b8f94" stroke="#a06060" stroke-width="0.5"/><polygon points="1505.6,818.0 1492.1,803.6 1492.1,828.2 1505.6,846.0" fill="#7e8287" stroke="#a06060" stroke-width="0.5"/><polygon points="1505.6,818.0 1512.5,818.0 1498.1,803.6 1492.1,803.6" fill="#9a9ea3" stroke="#a06060" stroke-width="0.5"/><polygon points="1505.6,818.0 1512.5,818.0 1512.5,846.0 1505.6,846.0" fill="#8b8f94" stroke="#a06060" stroke-width="0.5"/><polygon points="1287.1,834.0 1299.8,817.7 1299.8,828.2 1287.1,846.0" fill="#7e8287" stroke="#a06060" stroke-width="0.5"/><polygon points="1280.2,834.0 1287.1,834.0 1299.8,817.7 1293.7,817.7" fill="#9a9ea3" stroke="#a06060" stroke-width="0.5"/><polygon points="1280.2,834.0 1287.1,834.0 1287.1,846.0 1280.2,846.0" fill="#8b8f94" stroke="#a06060" stroke-width="0.5"/><polygon points="1495.8,818.0 1483.5,803.6 1483.5,828.2 1495.8,846.0" fill="#7e8287" stroke="#a06060" stroke-width="0.5"/><polygon points="1495.8,818.0 1502.7,818.0 1489.5,803.6 1483.5,803.6" fill="#9a9ea3" stroke="#a06060" stroke-width="0.5"/><polygon points="1495.8,818.0 1502.7,818.0 1502.7,846.0 1495.8,846.0" fill="#8b8f94" stroke="#a06060" stroke-width="0.5"/><polygon points="1296.9,831.0 1308.4,815.0 1308.4,828.2 1296.9,846.0" fill="#7e8287" stroke="#a06060" stroke-width="0.5"/><polygon points="1290.0,831.0 1296.9,831.0 1308.4,815.0 1302.4,815.0" fill="#9a9ea3" stroke="#a06060" stroke-width="0.5"/><polygon points="1290.0,831.0 1296.9,831.0 1296.9,846.0 1290.0,846.0" fill="#8b8f94" stroke="#a06060" stroke-width="0.5"/><polygon points="1486.0,818.0 1474.8,803.6 1474.8,828.2 1486.0,846.0" fill="#7e8287" stroke="#a06060" stroke-width="0.5"/><polygon points="1486.0,818.0 1492.9,818.0 1480.9,803.6 1474.8,803.6" fill="#9a9ea3" stroke="#a06060" stroke-width="0.5"/><polygon points="1486.0,818.0 1492.9,818.0 1492.9,846.0 1486.0,846.0" fill="#8b8f94" stroke="#a06060" stroke-width="0.5"/><polygon points="1306.7,831.0 1317.0,815.0 1317.0,828.2 1306.7,846.0" fill="#7e8287" stroke="#a06060" stroke-width="0.5"/><polygon points="1299.8,831.0 1306.7,831.0 1317.0,815.0 1311.0,815.0" fill="#9a9ea3" stroke="#a06060" stroke-width="0.5"/><polygon points="1299.8,831.0 1306.7,831.0 1306.7,846.0 1299.8,846.0" fill="#8b8f94" stroke="#a06060" stroke-width="0.5"/><polygon points="1476.2,818.0 1466.2,803.6 1466.2,828.2 1476.2,846.0" fill="#7e8287" stroke="#a06060" stroke-width="0.5"/><polygon points="1476.2,818.0 1483.1,818.0 1472.3,803.6 1466.2,803.6" fill="#9a9ea3" stroke="#a06060" stroke-width="0.5"/><polygon points="1476.2,818.0 1483.1,818.0 1483.1,846.0 1476.2,846.0" fill="#8b8f94" stroke="#a06060" stroke-width="0.5"/><polygon points="1316.5,834.0 1325.6,817.7 1325.6,828.2 1316.5,846.0" fill="#7e8287" stroke="#a06060" stroke-width="0.5"/><polygon points="1309.6,834.0 1316.5,834.0 1325.6,817.7 1319.6,817.7" fill="#9a9ea3" stroke="#a06060" stroke-width="0.5"/><polygon points="1309.6,834.0 1316.5,834.0 1316.5,846.0 1309.6,846.0" fill="#8b8f94" stroke="#a06060" stroke-width="0.5"/><polygon points="1466.4,818.0 1457.6,803.6 1457.6,828.2 1466.4,846.0" fill="#7e8287" stroke="#a06060" stroke-width="0.5"/><polygon points="1466.4,818.0 1473.3,818.0 1463.6,803.6 1457.6,803.6" fill="#9a9ea3" stroke="#a06060" stroke-width="0.5"/><polygon points="1466.4,818.0 1473.3,818.0 1473.3,846.0 1466.4,846.0" fill="#8b8f94" stroke="#a06060" stroke-width="0.5"/><polygon points="1326.3,831.0 1334.3,815.0 1334.3,828.2 1326.3,846.0" fill="#7e8287" stroke="#a06060" stroke-width="0.5"/><polygon points="1319.4,831.0 1326.3,831.0 1334.3,815.0 1328.2,815.0" fill="#9a9ea3" stroke="#a06060" stroke-width="0.5"/><polygon points="1319.4,831.0 1326.3,831.0 1326.3,846.0 1319.4,846.0" fill="#8b8f94" stroke="#a06060" stroke-width="0.5"/><polygon points="1456.6,818.0 1449.0,803.6 1449.0,828.2 1456.6,846.0" fill="#7e8287" stroke="#a06060" stroke-width="0.5"/><polygon points="1456.6,818.0 1463.5,818.0 1455.0,803.6 1449.0,803.6" fill="#9a9ea3" stroke="#a06060" stroke-width="0.5"/><polygon points="1456.6,818.0 1463.5,818.0 1463.5,846.0 1456.6,846.0" fill="#8b8f94" stroke="#a06060" stroke-width="0.5"/><polygon points="1336.1,831.0 1342.9,815.0 1342.9,828.2 1336.1,846.0" fill="#7e8287" stroke="#a06060" stroke-width="0.5"/><polygon points="1329.2,831.0 1336.1,831.0 1342.9,815.0 1336.9,815.0" fill="#9a9ea3" stroke="#a06060" stroke-width="0.5"/><polygon points="1329.2,831.0 1336.1,831.0 1336.1,846.0 1329.2,846.0" fill="#8b8f94" stroke="#a06060" stroke-width="0.5"/><polygon points="1446.8,818.0 1440.3,803.6 1440.3,828.2 1446.8,846.0" fill="#7e8287" stroke="#a06060" stroke-width="0.5"/><polygon points="1446.8,818.0 1453.7,818.0 1446.4,803.6 1440.3,803.6" fill="#9a9ea3" stroke="#a06060" stroke-width="0.5"/><polygon points="1446.8,818.0 1453.7,818.0 1453.7,846.0 1446.8,846.0" fill="#8b8f94" stroke="#a06060" stroke-width="0.5"/><polygon points="1345.9,834.0 1351.5,817.7 1351.5,828.2 1345.9,846.0" fill="#7e8287" stroke="#a06060" stroke-width="0.5"/><polygon points="1339.0,834.0 1345.9,834.0 1351.5,817.7 1345.5,817.7" fill="#9a9ea3" stroke="#a06060" stroke-width="0.5"/><polygon points="1339.0,834.0 1345.9,834.0 1345.9,846.0 1339.0,846.0" fill="#8b8f94" stroke="#a06060" stroke-width="0.5"/><polygon points="1437.0,818.0 1431.7,803.6 1431.7,828.2 1437.0,846.0" fill="#7e8287" stroke="#a06060" stroke-width="0.5"/><polygon points="1437.0,818.0 1443.9,818.0 1437.8,803.6 1431.7,803.6" fill="#9a9ea3" stroke="#a06060" stroke-width="0.5"/><polygon points="1437.0,818.0 1443.9,818.0 1443.9,846.0 1437.0,846.0" fill="#8b8f94" stroke="#a06060" stroke-width="0.5"/><polygon points="1355.7,818.0 1360.1,803.6 1360.1,828.2 1355.7,846.0" fill="#7e8287" stroke="#a06060" stroke-width="0.5"/><polygon points="1348.8,818.0 1355.7,818.0 1360.1,803.6 1354.1,803.6" fill="#9a9ea3" stroke="#a06060" stroke-width="0.5"/><polygon points="1348.8,818.0 1355.7,818.0 1355.7,846.0 1348.8,846.0" fill="#8b8f94" stroke="#a06060" stroke-width="0.5"/><polygon points="1427.2,818.0 1423.1,803.6 1423.1,828.2 1427.2,846.0" fill="#7e8287" stroke="#a06060" stroke-width="0.5"/><polygon points="1427.2,818.0 1434.1,818.0 1429.1,803.6 1423.1,803.6" fill="#9a9ea3" stroke="#a06060" stroke-width="0.5"/><polygon points="1427.2,818.0 1434.1,818.0 1434.1,846.0 1427.2,846.0" fill="#8b8f94" stroke="#a06060" stroke-width="0.5"/><polygon points="1365.5,818.0 1368.8,803.6 1368.8,828.2 1365.5,846.0" fill="#7e8287" stroke="#a06060" stroke-width="0.5"/><polygon points="1358.6,818.0 1365.5,818.0 1368.8,803.6 1362.7,803.6" fill="#9a9ea3" stroke="#a06060" stroke-width="0.5"/><polygon points="1358.6,818.0 1365.5,818.0 1365.5,846.0 1358.6,846.0" fill="#8b8f94" stroke="#a06060" stroke-width="0.5"/><polygon points="1417.4,818.0 1414.5,803.6 1414.5,828.2 1417.4,846.0" fill="#7e8287" stroke="#a06060" stroke-width="0.5"/><polygon points="1417.4,818.0 1424.3,818.0 1420.5,803.6 1414.5,803.6" fill="#9a9ea3" stroke="#a06060" stroke-width="0.5"/><polygon points="1417.4,818.0 1424.3,818.0 1424.3,846.0 1417.4,846.0" fill="#8b8f94" stroke="#a06060" stroke-width="0.5"/><polygon points="1375.3,818.0 1377.4,803.6 1377.4,828.2 1375.3,846.0" fill="#7e8287" stroke="#a06060" stroke-width="0.5"/><polygon points="1368.4,818.0 1375.3,818.0 1377.4,803.6 1371.4,803.6" fill="#9a9ea3" stroke="#a06060" stroke-width="0.5"/><polygon points="1368.4,818.0 1375.3,818.0 1375.3,846.0 1368.4,846.0" fill="#8b8f94" stroke="#a06060" stroke-width="0.5"/><polygon points="1407.6,818.0 1405.8,803.6 1405.8,828.2 1407.6,846.0" fill="#7e8287" stroke="#a06060" stroke-width="0.5"/><polygon points="1407.6,818.0 1414.5,818.0 1411.9,803.6 1405.8,803.6" fill="#9a9ea3" stroke="#a06060" stroke-width="0.5"/><polygon points="1407.6,818.0 1414.5,818.0 1414.5,846.0 1407.6,846.0" fill="#8b8f94" stroke="#a06060" stroke-width="0.5"/><polygon points="1385.1,818.0 1386.0,803.6 1386.0,828.2 1385.1,846.0" fill="#7e8287" stroke="#a06060" stroke-width="0.5"/><polygon points="1378.2,818.0 1385.1,818.0 1386.0,803.6 1380.0,803.6" fill="#9a9ea3" stroke="#a06060" stroke-width="0.5"/><polygon points="1378.2,818.0 1385.1,818.0 1385.1,846.0 1378.2,846.0" fill="#8b8f94" stroke="#a06060" stroke-width="0.5"/><polygon points="1397.8,818.0 1397.2,803.6 1397.2,828.2 1397.8,846.0" fill="#7e8287" stroke="#a06060" stroke-width="0.5"/><polygon points="1397.8,818.0 1404.7,818.0 1403.3,803.6 1397.2,803.6" fill="#9a9ea3" stroke="#a06060" stroke-width="0.5"/><polygon points="1397.8,818.0 1404.7,818.0 1404.7,846.0 1397.8,846.0" fill="#8b8f94" stroke="#a06060" stroke-width="0.5"/><polygon points="1388.0,818.0 1394.9,818.0 1394.6,803.6 1388.6,803.6" fill="#9a9ea3" stroke="#a06060" stroke-width="0.5"/><polygon points="1388.0,818.0 1394.9,818.0 1394.9,846.0 1388.0,846.0" fill="#8b8f94" stroke="#a06060" stroke-width="0.5"/>
<polygon points="1217.2,867.0 1240.9,844.2 1240.9,858.9 1217.2,884.0" fill="#732628" stroke="#7a2a2c" stroke-width="0.5"/><polygon points="1206.0,867.0 1217.2,867.0 1240.9,844.2 1231.2,844.2" fill="#86302f" stroke="#7a2a2c" stroke-width="0.5"/><polygon points="1206.0,867.0 1217.2,867.0 1217.2,884.0 1206.0,884.0" fill="#7f2b2d" stroke="#7a2a2c" stroke-width="0.5"/><polygon points="1557.9,862.0 1535.6,839.9 1535.6,858.9 1557.9,884.0" fill="#732628" stroke="#7a2a2c" stroke-width="0.5"/><polygon points="1557.9,862.0 1569.0,862.0 1545.3,839.9 1535.6,839.9" fill="#86302f" stroke="#7a2a2c" stroke-width="0.5"/><polygon points="1557.9,862.0 1569.0,862.0 1569.0,884.0 1557.9,884.0" fill="#7f2b2d" stroke="#7a2a2c" stroke-width="0.5"/><polygon points="1229.3,867.0 1251.4,844.2 1251.4,858.9 1229.3,884.0" fill="#732628" stroke="#7a2a2c" stroke-width="0.5"/><polygon points="1218.1,867.0 1229.3,867.0 1251.4,844.2 1241.7,844.2" fill="#86302f" stroke="#7a2a2c" stroke-width="0.5"/><polygon points="1218.1,867.0 1229.3,867.0 1229.3,884.0 1218.1,884.0" fill="#7f2b2d" stroke="#7a2a2c" stroke-width="0.5"/><polygon points="1545.7,862.0 1525.1,839.9 1525.1,858.9 1545.7,884.0" fill="#732628" stroke="#7a2a2c" stroke-width="0.5"/><polygon points="1545.7,862.0 1556.9,862.0 1534.8,839.9 1525.1,839.9" fill="#86302f" stroke="#7a2a2c" stroke-width="0.5"/><polygon points="1545.7,862.0 1556.9,862.0 1556.9,884.0 1545.7,884.0" fill="#7f2b2d" stroke="#7a2a2c" stroke-width="0.5"/><polygon points="1241.4,867.0 1261.9,844.2 1261.9,858.9 1241.4,884.0" fill="#732628" stroke="#7a2a2c" stroke-width="0.5"/><polygon points="1230.3,867.0 1241.4,867.0 1261.9,844.2 1252.2,844.2" fill="#86302f" stroke="#7a2a2c" stroke-width="0.5"/><polygon points="1230.3,867.0 1241.4,867.0 1241.4,884.0 1230.3,884.0" fill="#7f2b2d" stroke="#7a2a2c" stroke-width="0.5"/><polygon points="1533.6,862.0 1514.6,839.9 1514.6,858.9 1533.6,884.0" fill="#732628" stroke="#7a2a2c" stroke-width="0.5"/><polygon points="1533.6,862.0 1544.8,862.0 1524.3,839.9 1514.6,839.9" fill="#86302f" stroke="#7a2a2c" stroke-width="0.5"/><polygon points="1533.6,862.0 1544.8,862.0 1544.8,884.0 1533.6,884.0" fill="#7f2b2d" stroke="#7a2a2c" stroke-width="0.5"/><polygon points="1253.6,867.0 1272.4,844.2 1272.4,858.9 1253.6,884.0" fill="#732628" stroke="#7a2a2c" stroke-width="0.5"/><polygon points="1242.4,867.0 1253.6,867.0 1272.4,844.2 1262.7,844.2" fill="#86302f" stroke="#7a2a2c" stroke-width="0.5"/><polygon points="1242.4,867.0 1253.6,867.0 1253.6,884.0 1242.4,884.0" fill="#7f2b2d" stroke="#7a2a2c" stroke-width="0.5"/><polygon points="1521.5,862.0 1504.1,839.9 1504.1,858.9 1521.5,884.0" fill="#732628" stroke="#7a2a2c" stroke-width="0.5"/><polygon points="1521.5,862.0 1532.6,862.0 1513.8,839.9 1504.1,839.9" fill="#86302f" stroke="#7a2a2c" stroke-width="0.5"/><polygon points="1521.5,862.0 1532.6,862.0 1532.6,884.0 1521.5,884.0" fill="#7f2b2d" stroke="#7a2a2c" stroke-width="0.5"/><polygon points="1265.7,862.0 1282.9,839.9 1282.9,858.9 1265.7,884.0" fill="#732628" stroke="#7a2a2c" stroke-width="0.5"/><polygon points="1254.5,862.0 1265.7,862.0 1282.9,839.9 1273.2,839.9" fill="#86302f" stroke="#7a2a2c" stroke-width="0.5"/><polygon points="1254.5,862.0 1265.7,862.0 1265.7,884.0 1254.5,884.0" fill="#7f2b2d" stroke="#7a2a2c" stroke-width="0.5"/><polygon points="1509.3,862.0 1493.6,839.9 1493.6,858.9 1509.3,884.0" fill="#732628" stroke="#7a2a2c" stroke-width="0.5"/><polygon points="1509.3,862.0 1520.5,862.0 1503.3,839.9 1493.6,839.9" fill="#86302f" stroke="#7a2a2c" stroke-width="0.5"/><polygon points="1509.3,862.0 1520.5,862.0 1520.5,884.0 1509.3,884.0" fill="#7f2b2d" stroke="#7a2a2c" stroke-width="0.5"/><polygon points="1277.8,862.0 1293.4,839.9 1293.4,858.9 1277.8,884.0" fill="#732628" stroke="#7a2a2c" stroke-width="0.5"/><polygon points="1266.7,862.0 1277.8,862.0 1293.4,839.9 1283.7,839.9" fill="#86302f" stroke="#7a2a2c" stroke-width="0.5"/><polygon points="1266.7,862.0 1277.8,862.0 1277.8,884.0 1266.7,884.0" fill="#7f2b2d" stroke="#7a2a2c" stroke-width="0.5"/><polygon points="1497.2,862.0 1483.1,839.9 1483.1,858.9 1497.2,884.0" fill="#732628" stroke="#7a2a2c" stroke-width="0.5"/><polygon points="1497.2,862.0 1508.4,862.0 1492.8,839.9 1483.1,839.9" fill="#86302f" stroke="#7a2a2c" stroke-width="0.5"/><polygon points="1497.2,862.0 1508.4,862.0 1508.4,884.0 1497.2,884.0" fill="#7f2b2d" stroke="#7a2a2c" stroke-width="0.5"/><polygon points="1290.0,862.0 1303.9,839.9 1303.9,858.9 1290.0,884.0" fill="#732628" stroke="#7a2a2c" stroke-width="0.5"/><polygon points="1278.8,862.0 1290.0,862.0 1303.9,839.9 1294.2,839.9" fill="#86302f" stroke="#7a2a2c" stroke-width="0.5"/><polygon points="1278.8,862.0 1290.0,862.0 1290.0,884.0 1278.8,884.0" fill="#7f2b2d" stroke="#7a2a2c" stroke-width="0.5"/><polygon points="1485.1,862.0 1472.6,839.9 1472.6,858.9 1485.1,884.0" fill="#732628" stroke="#7a2a2c" stroke-width="0.5"/><polygon points="1485.1,862.0 1496.2,862.0 1482.3,839.9 1472.6,839.9" fill="#86302f" stroke="#7a2a2c" stroke-width="0.5"/><polygon points="1485.1,862.0 1496.2,862.0 1496.2,884.0 1485.1,884.0" fill="#7f2b2d" stroke="#7a2a2c" stroke-width="0.5"/><polygon points="1302.1,862.0 1314.4,839.9 1314.4,858.9 1302.1,884.0" fill="#732628" stroke="#7a2a2c" stroke-width="0.5"/><polygon points="1290.9,862.0 1302.1,862.0 1314.4,839.9 1304.7,839.9" fill="#86302f" stroke="#7a2a2c" stroke-width="0.5"/><polygon points="1290.9,862.0 1302.1,862.0 1302.1,884.0 1290.9,884.0" fill="#7f2b2d" stroke="#7a2a2c" stroke-width="0.5"/><polygon points="1472.9,862.0 1462.1,839.9 1462.1,858.9 1472.9,884.0" fill="#732628" stroke="#7a2a2c" stroke-width="0.5"/><polygon points="1472.9,862.0 1484.1,862.0 1471.8,839.9 1462.1,839.9" fill="#86302f" stroke="#7a2a2c" stroke-width="0.5"/><polygon points="1472.9,862.0 1484.1,862.0 1484.1,884.0 1472.9,884.0" fill="#7f2b2d" stroke="#7a2a2c" stroke-width="0.5"/><polygon points="1314.2,862.0 1324.9,839.9 1324.9,858.9 1314.2,884.0" fill="#732628" stroke="#7a2a2c" stroke-width="0.5"/><polygon points="1303.1,862.0 1314.2,862.0 1324.9,839.9 1315.2,839.9" fill="#86302f" stroke="#7a2a2c" stroke-width="0.5"/><polygon points="1303.1,862.0 1314.2,862.0 1314.2,884.0 1303.1,884.0" fill="#7f2b2d" stroke="#7a2a2c" stroke-width="0.5"/><polygon points="1460.8,862.0 1451.6,839.9 1451.6,858.9 1460.8,884.0" fill="#732628" stroke="#7a2a2c" stroke-width="0.5"/><polygon points="1460.8,862.0 1472.0,862.0 1461.3,839.9 1451.6,839.9" fill="#86302f" stroke="#7a2a2c" stroke-width="0.5"/><polygon points="1460.8,862.0 1472.0,862.0 1472.0,884.0 1460.8,884.0" fill="#7f2b2d" stroke="#7a2a2c" stroke-width="0.5"/><polygon points="1326.4,862.0 1335.4,839.9 1335.4,858.9 1326.4,884.0" fill="#732628" stroke="#7a2a2c" stroke-width="0.5"/><polygon points="1315.2,862.0 1326.4,862.0 1335.4,839.9 1325.7,839.9" fill="#86302f" stroke="#7a2a2c" stroke-width="0.5"/><polygon points="1315.2,862.0 1326.4,862.0 1326.4,884.0 1315.2,884.0" fill="#7f2b2d" stroke="#7a2a2c" stroke-width="0.5"/><polygon points="1448.7,862.0 1441.2,839.9 1441.2,858.9 1448.7,884.0" fill="#732628" stroke="#7a2a2c" stroke-width="0.5"/><polygon points="1448.7,862.0 1459.8,862.0 1450.8,839.9 1441.2,839.9" fill="#86302f" stroke="#7a2a2c" stroke-width="0.5"/><polygon points="1448.7,862.0 1459.8,862.0 1459.8,884.0 1448.7,884.0" fill="#7f2b2d" stroke="#7a2a2c" stroke-width="0.5"/><polygon points="1338.5,862.0 1345.9,839.9 1345.9,858.9 1338.5,884.0" fill="#732628" stroke="#7a2a2c" stroke-width="0.5"/><polygon points="1327.3,862.0 1338.5,862.0 1345.9,839.9 1336.2,839.9" fill="#86302f" stroke="#7a2a2c" stroke-width="0.5"/><polygon points="1327.3,862.0 1338.5,862.0 1338.5,884.0 1327.3,884.0" fill="#7f2b2d" stroke="#7a2a2c" stroke-width="0.5"/><polygon points="1436.5,862.0 1430.7,839.9 1430.7,858.9 1436.5,884.0" fill="#732628" stroke="#7a2a2c" stroke-width="0.5"/><polygon points="1436.5,862.0 1447.7,862.0 1440.3,839.9 1430.7,839.9" fill="#86302f" stroke="#7a2a2c" stroke-width="0.5"/><polygon points="1436.5,862.0 1447.7,862.0 1447.7,884.0 1436.5,884.0" fill="#7f2b2d" stroke="#7a2a2c" stroke-width="0.5"/><polygon points="1350.6,862.0 1356.3,839.9 1356.3,858.9 1350.6,884.0" fill="#732628" stroke="#7a2a2c" stroke-width="0.5"/><polygon points="1339.5,862.0 1350.6,862.0 1356.3,839.9 1346.7,839.9" fill="#86302f" stroke="#7a2a2c" stroke-width="0.5"/><polygon points="1339.5,862.0 1350.6,862.0 1350.6,884.0 1339.5,884.0" fill="#7f2b2d" stroke="#7a2a2c" stroke-width="0.5"/><polygon points="1424.4,862.0 1420.2,839.9 1420.2,858.9 1424.4,884.0" fill="#732628" stroke="#7a2a2c" stroke-width="0.5"/><polygon points="1424.4,862.0 1431.7,862.0 1426.5,839.9 1420.2,839.9" fill="#86302f" stroke="#7a2a2c" stroke-width="0.5"/><polygon points="1424.4,862.0 1431.7,862.0 1431.7,884.0 1424.4,884.0" fill="#7f2b2d" stroke="#7a2a2c" stroke-width="0.5"/><polygon points="1362.8,862.0 1366.8,839.9 1366.8,858.9 1362.8,884.0" fill="#732628" stroke="#7a2a2c" stroke-width="0.5"/><polygon points="1351.6,862.0 1362.8,862.0 1366.8,839.9 1357.2,839.9" fill="#86302f" stroke="#7a2a2c" stroke-width="0.5"/><polygon points="1351.6,862.0 1362.8,862.0 1362.8,884.0 1351.6,884.0" fill="#7f2b2d" stroke="#7a2a2c" stroke-width="0.5"/><polygon points="1412.3,862.0 1409.7,839.9 1409.7,858.9 1412.3,884.0" fill="#732628" stroke="#7a2a2c" stroke-width="0.5"/><polygon points="1412.3,862.0 1419.5,862.0 1416.0,839.9 1409.7,839.9" fill="#86302f" stroke="#7a2a2c" stroke-width="0.5"/><polygon points="1412.3,862.0 1419.5,862.0 1419.5,884.0 1412.3,884.0" fill="#7f2b2d" stroke="#7a2a2c" stroke-width="0.5"/><polygon points="1371.0,862.0 1374.0,839.9 1374.0,858.9 1371.0,884.0" fill="#732628" stroke="#7a2a2c" stroke-width="0.5"/><polygon points="1363.7,862.0 1371.0,862.0 1374.0,839.9 1367.7,839.9" fill="#86302f" stroke="#7a2a2c" stroke-width="0.5"/><polygon points="1363.7,862.0 1371.0,862.0 1371.0,884.0 1363.7,884.0" fill="#7f2b2d" stroke="#7a2a2c" stroke-width="0.5"/><polygon points="1400.1,862.0 1399.2,839.9 1399.2,858.9 1400.1,884.0" fill="#732628" stroke="#7a2a2c" stroke-width="0.5"/><polygon points="1400.1,862.0 1407.4,862.0 1405.5,839.9 1399.2,839.9" fill="#86302f" stroke="#7a2a2c" stroke-width="0.5"/><polygon points="1400.1,862.0 1407.4,862.0 1407.4,884.0 1400.1,884.0" fill="#7f2b2d" stroke="#7a2a2c" stroke-width="0.5"/><polygon points="1383.1,862.0 1384.5,839.9 1384.5,858.9 1383.1,884.0" fill="#732628" stroke="#7a2a2c" stroke-width="0.5"/><polygon points="1375.9,862.0 1383.1,862.0 1384.5,839.9 1378.2,839.9" fill="#86302f" stroke="#7a2a2c" stroke-width="0.5"/><polygon points="1375.9,862.0 1383.1,862.0 1383.1,884.0 1375.9,884.0" fill="#7f2b2d" stroke="#7a2a2c" stroke-width="0.5"/><polygon points="1388.0,862.0 1395.3,862.0 1395.0,839.9 1388.7,839.9" fill="#86302f" stroke="#7a2a2c" stroke-width="0.5"/><polygon points="1388.0,862.0 1395.3,862.0 1395.3,884.0 1388.0,884.0" fill="#7f2b2d" stroke="#7a2a2c" stroke-width="0.5"/>
<polygon points="1156.8,922.6 1198.4,883.1 1198.4,900.3 1156.8,943.5" fill="#2eaeb0" stroke="#3f7f82" stroke-width="0.5"/><polygon points="1148.0,922.6 1156.8,922.6 1198.4,883.1 1191.1,883.1" fill="#3ac7c7" stroke="#3f7f82" stroke-width="0.5"/><polygon points="1148.0,922.6 1156.8,922.6 1156.8,943.5 1148.0,943.5" fill="#33bfc0" stroke="#3f7f82" stroke-width="0.5"/><polygon points="1169.1,926.6 1208.5,886.4 1208.5,900.3 1169.1,943.5" fill="#2eaeb0" stroke="#3f7f82" stroke-width="0.5"/><polygon points="1160.3,926.6 1169.1,926.6 1208.5,886.4 1201.2,886.4" fill="#3ac7c7" stroke="#3f7f82" stroke-width="0.5"/><polygon points="1160.3,926.6 1169.1,926.6 1169.1,943.5 1160.3,943.5" fill="#33bfc0" stroke="#3f7f82" stroke-width="0.5"/><polygon points="1614.7,922.0 1575.7,882.6 1575.7,900.3 1614.7,943.5" fill="#2eaeb0" stroke="#3f7f82" stroke-width="0.5"/><polygon points="1614.7,922.0 1623.6,922.0 1583.0,882.6 1575.7,882.6" fill="#3ac7c7" stroke="#3f7f82" stroke-width="0.5"/><polygon points="1614.7,922.0 1623.6,922.0 1623.6,943.5 1614.7,943.5" fill="#33bfc0" stroke="#3f7f82" stroke-width="0.5"/><polygon points="1181.4,920.0 1218.6,880.9 1218.6,900.3 1181.4,943.5" fill="#2eaeb0" stroke="#3f7f82" stroke-width="0.5"/><polygon points="1172.6,920.0 1181.4,920.0 1218.6,880.9 1211.4,880.9" fill="#3ac7c7" stroke="#3f7f82" stroke-width="0.5"/><polygon points="1172.6,920.0 1181.4,920.0 1181.4,943.5 1172.6,943.5" fill="#33bfc0" stroke="#3f7f82" stroke-width="0.5"/><polygon points="1602.4,926.0 1565.6,885.9 1565.6,900.3 1602.4,943.5" fill="#2eaeb0" stroke="#3f7f82" stroke-width="0.5"/><polygon points="1602.4,926.0 1611.3,926.0 1572.9,885.9 1565.6,885.9" fill="#3ac7c7" stroke="#3f7f82" stroke-width="0.5"/><polygon points="1602.4,926.0 1611.3,926.0 1611.3,943.5 1602.4,943.5" fill="#33bfc0" stroke="#3f7f82" stroke-width="0.5"/><polygon points="1193.7,926.6 1228.8,886.4 1228.8,900.3 1193.7,943.5" fill="#2eaeb0" stroke="#3f7f82" stroke-width="0.5"/><polygon points="1184.8,926.6 1193.7,926.6 1228.8,886.4 1221.5,886.4" fill="#3ac7c7" stroke="#3f7f82" stroke-width="0.5"/><polygon points="1184.8,926.6 1193.7,926.6 1193.7,943.5 1184.8,943.5" fill="#33bfc0" stroke="#3f7f82" stroke-width="0.5"/><polygon points="1590.2,926.0 1555.5,885.9 1555.5,900.3 1590.2,943.5" fill="#2eaeb0" stroke="#3f7f82" stroke-width="0.5"/><polygon points="1590.2,926.0 1599.0,926.0 1562.7,885.9 1555.5,885.9" fill="#3ac7c7" stroke="#3f7f82" stroke-width="0.5"/><polygon points="1590.2,926.0 1599.0,926.0 1599.0,943.5 1590.2,943.5" fill="#33bfc0" stroke="#3f7f82" stroke-width="0.5"/><polygon points="1206.0,922.6 1238.9,883.1 1238.9,900.3 1206.0,943.5" fill="#2eaeb0" stroke="#3f7f82" stroke-width="0.5"/><polygon points="1197.1,922.6 1206.0,922.6 1238.9,883.1 1231.6,883.1" fill="#3ac7c7" stroke="#3f7f82" stroke-width="0.5"/><polygon points="1197.1,922.6 1206.0,922.6 1206.0,943.5 1197.1,943.5" fill="#33bfc0" stroke="#3f7f82" stroke-width="0.5"/><polygon points="1577.9,926.0 1545.3,885.9 1545.3,900.3 1577.9,943.5" fill="#2eaeb0" stroke="#3f7f82" stroke-width="0.5"/><polygon points="1577.9,926.0 1586.7,926.0 1552.6,885.9 1545.3,885.9" fill="#3ac7c7" stroke="#3f7f82" stroke-width="0.5"/><polygon points="1577.9,926.0 1586.7,926.0 1586.7,943.5 1577.9,943.5" fill="#33bfc0" stroke="#3f7f82" stroke-width="0.5"/><polygon points="1218.3,928.0 1249.0,887.5 1249.0,900.3 1218.3,943.5" fill="#2eaeb0" stroke="#3f7f82" stroke-width="0.5"/><polygon points="1209.4,928.0 1218.3,928.0 1249.0,887.5 1241.7,887.5" fill="#3ac7c7" stroke="#3f7f82" stroke-width="0.5"/><polygon points="1209.4,928.0 1218.3,928.0 1218.3,943.5 1209.4,943.5" fill="#33bfc0" stroke="#3f7f82" stroke-width="0.5"/><polygon points="1565.6,926.0 1535.2,885.9 1535.2,900.3 1565.6,943.5" fill="#2eaeb0" stroke="#3f7f82" stroke-width="0.5"/><polygon points="1565.6,926.0 1574.4,926.0 1542.5,885.9 1535.2,885.9" fill="#3ac7c7" stroke="#3f7f82" stroke-width="0.5"/><polygon points="1565.6,926.0 1574.4,926.0 1574.4,943.5 1565.6,943.5" fill="#33bfc0" stroke="#3f7f82" stroke-width="0.5"/><polygon points="1230.5,928.0 1259.1,887.5 1259.1,900.3 1230.5,943.5" fill="#2eaeb0" stroke="#3f7f82" stroke-width="0.5"/><polygon points="1221.7,928.0 1230.5,928.0 1259.1,887.5 1251.8,887.5" fill="#3ac7c7" stroke="#3f7f82" stroke-width="0.5"/><polygon points="1221.7,928.0 1230.5,928.0 1230.5,943.5 1221.7,943.5" fill="#33bfc0" stroke="#3f7f82" stroke-width="0.5"/><polygon points="1553.3,926.0 1525.1,885.9 1525.1,900.3 1553.3,943.5" fill="#2eaeb0" stroke="#3f7f82" stroke-width="0.5"/><polygon points="1553.3,926.0 1562.2,926.0 1532.4,885.9 1525.1,885.9" fill="#3ac7c7" stroke="#3f7f82" stroke-width="0.5"/><polygon points="1553.3,926.0 1562.2,926.0 1562.2,943.5 1553.3,943.5" fill="#33bfc0" stroke="#3f7f82" stroke-width="0.5"/><polygon points="1242.8,928.0 1269.2,887.5 1269.2,900.3 1242.8,943.5" fill="#2eaeb0" stroke="#3f7f82" stroke-width="0.5"/><polygon points="1234.0,928.0 1242.8,928.0 1269.2,887.5 1262.0,887.5" fill="#3ac7c7" stroke="#3f7f82" stroke-width="0.5"/><polygon points="1234.0,928.0 1242.8,928.0 1242.8,943.5 1234.0,943.5" fill="#33bfc0" stroke="#3f7f82" stroke-width="0.5"/><polygon points="1541.0,926.0 1515.0,885.9 1515.0,900.3 1541.0,943.5" fill="#2eaeb0" stroke="#3f7f82" stroke-width="0.5"/><polygon points="1541.0,926.0 1549.9,926.0 1522.3,885.9 1515.0,885.9" fill="#3ac7c7" stroke="#3f7f82" stroke-width="0.5"/><polygon points="1541.0,926.0 1549.9,926.0 1549.9,943.5 1541.0,943.5" fill="#33bfc0" stroke="#3f7f82" stroke-width="0.5"/><polygon points="1255.1,930.0 1279.4,889.2 1279.4,900.3 1255.1,943.5" fill="#2eaeb0" stroke="#3f7f82" stroke-width="0.5"/><polygon points="1246.3,930.0 1255.1,930.0 1279.4,889.2 1272.1,889.2" fill="#3ac7c7" stroke="#3f7f82" stroke-width="0.5"/><polygon points="1246.3,930.0 1255.1,930.0 1255.1,943.5 1246.3,943.5" fill="#33bfc0" stroke="#3f7f82" stroke-width="0.5"/><polygon points="1528.7,926.0 1504.9,885.9 1504.9,900.3 1528.7,943.5" fill="#2eaeb0" stroke="#3f7f82" stroke-width="0.5"/><polygon points="1528.7,926.0 1537.6,926.0 1512.1,885.9 1504.9,885.9" fill="#3ac7c7" stroke="#3f7f82" stroke-width="0.5"/><polygon points="1528.7,926.0 1537.6,926.0 1537.6,943.5 1528.7,943.5" fill="#33bfc0" stroke="#3f7f82" stroke-width="0.5"/><polygon points="1267.4,932.5 1289.5,891.2 1289.5,900.3 1267.4,943.5" fill="#2eaeb0" stroke="#3f7f82" stroke-width="0.5"/><polygon points="1258.5,932.5 1267.4,932.5 1289.5,891.2 1282.2,891.2" fill="#3ac7c7" stroke="#3f7f82" stroke-width="0.5"/><polygon points="1258.5,932.5 1267.4,932.5 1267.4,943.5 1258.5,943.5" fill="#33bfc0" stroke="#3f7f82" stroke-width="0.5"/><polygon points="1516.5,926.0 1494.7,885.9 1494.7,900.3 1516.5,943.5" fill="#2eaeb0" stroke="#3f7f82" stroke-width="0.5"/><polygon points="1516.5,926.0 1525.3,926.0 1502.0,885.9 1494.7,885.9" fill="#3ac7c7" stroke="#3f7f82" stroke-width="0.5"/><polygon points="1516.5,926.0 1525.3,926.0 1525.3,943.5 1516.5,943.5" fill="#33bfc0" stroke="#3f7f82" stroke-width="0.5"/><polygon points="1279.7,933.0 1299.6,891.6 1299.6,900.3 1279.7,943.5" fill="#2eaeb0" stroke="#3f7f82" stroke-width="0.5"/><polygon points="1270.8,933.0 1279.7,933.0 1299.6,891.6 1292.3,891.6" fill="#3ac7c7" stroke="#3f7f82" stroke-width="0.5"/><polygon points="1270.8,933.0 1279.7,933.0 1279.7,943.5 1270.8,943.5" fill="#33bfc0" stroke="#3f7f82" stroke-width="0.5"/><polygon points="1504.2,926.0 1484.6,885.9 1484.6,900.3 1504.2,943.5" fill="#2eaeb0" stroke="#3f7f82" stroke-width="0.5"/><polygon points="1504.2,926.0 1513.0,926.0 1491.9,885.9 1484.6,885.9" fill="#3ac7c7" stroke="#3f7f82" stroke-width="0.5"/><polygon points="1504.2,926.0 1513.0,926.0 1513.0,943.5 1504.2,943.5" fill="#33bfc0" stroke="#3f7f82" stroke-width="0.5"/><polygon points="1291.9,933.0 1309.7,891.6 1309.7,900.3 1291.9,943.5" fill="#2eaeb0" stroke="#3f7f82" stroke-width="0.5"/><polygon points="1283.1,933.0 1291.9,933.0 1309.7,891.6 1302.4,891.6" fill="#3ac7c7" stroke="#3f7f82" stroke-width="0.5"/><polygon points="1283.1,933.0 1291.9,933.0 1291.9,943.5 1283.1,943.5" fill="#33bfc0" stroke="#3f7f82" stroke-width="0.5"/><polygon points="1491.9,926.0 1474.5,885.9 1474.5,900.3 1491.9,943.5" fill="#2eaeb0" stroke="#3f7f82" stroke-width="0.5"/><polygon points="1491.9,926.0 1500.7,926.0 1481.8,885.9 1474.5,885.9" fill="#3ac7c7" stroke="#3f7f82" stroke-width="0.5"/><polygon points="1491.9,926.0 1500.7,926.0 1500.7,943.5 1491.9,943.5" fill="#33bfc0" stroke="#3f7f82" stroke-width="0.5"/><polygon points="1304.2,935.0 1319.9,893.3 1319.9,900.3 1304.2,943.5" fill="#2eaeb0" stroke="#3f7f82" stroke-width="0.5"/><polygon points="1295.4,935.0 1304.2,935.0 1319.9,893.3 1312.6,893.3" fill="#3ac7c7" stroke="#3f7f82" stroke-width="0.5"/><polygon points="1295.4,935.0 1304.2,935.0 1304.2,943.5 1295.4,943.5" fill="#33bfc0" stroke="#3f7f82" stroke-width="0.5"/><polygon points="1479.6,926.0 1464.4,885.9 1464.4,900.3 1479.6,943.5" fill="#2eaeb0" stroke="#3f7f82" stroke-width="0.5"/><polygon points="1479.6,926.0 1488.5,926.0 1471.7,885.9 1464.4,885.9" fill="#3ac7c7" stroke="#3f7f82" stroke-width="0.5"/><polygon points="1479.6,926.0 1488.5,926.0 1488.5,943.5 1479.6,943.5" fill="#33bfc0" stroke="#3f7f82" stroke-width="0.5"/><polygon points="1316.5,926.0 1330.0,885.9 1330.0,900.3 1316.5,943.5" fill="#2eaeb0" stroke="#3f7f82" stroke-width="0.5"/><polygon points="1307.7,926.0 1316.5,926.0 1330.0,885.9 1322.7,885.9" fill="#3ac7c7" stroke="#3f7f82" stroke-width="0.5"/><polygon points="1307.7,926.0 1316.5,926.0 1316.5,943.5 1307.7,943.5" fill="#33bfc0" stroke="#3f7f82" stroke-width="0.5"/><polygon points="1467.3,926.0 1454.3,885.9 1454.3,900.3 1467.3,943.5" fill="#2eaeb0" stroke="#3f7f82" stroke-width="0.5"/><polygon points="1467.3,926.0 1476.2,926.0 1461.5,885.9 1454.3,885.9" fill="#3ac7c7" stroke="#3f7f82" stroke-width="0.5"/><polygon points="1467.3,926.0 1476.2,926.0 1476.2,943.5 1467.3,943.5" fill="#33bfc0" stroke="#3f7f82" stroke-width="0.5"/><polygon points="1328.8,926.0 1340.1,885.9 1340.1,900.3 1328.8,943.5" fill="#2eaeb0" stroke="#3f7f82" stroke-width="0.5"/><polygon points="1319.9,926.0 1328.8,926.0 1340.1,885.9 1332.8,885.9" fill="#3ac7c7" stroke="#3f7f82" stroke-width="0.5"/><polygon points="1319.9,926.0 1328.8,926.0 1328.8,943.5 1319.9,943.5" fill="#33bfc0" stroke="#3f7f82" stroke-width="0.5"/><polygon points="1455.1,926.0 1444.1,885.9 1444.1,900.3 1455.1,943.5" fill="#2eaeb0" stroke="#3f7f82" stroke-width="0.5"/><polygon points="1455.1,926.0 1463.9,926.0 1451.4,885.9 1444.1,885.9" fill="#3ac7c7" stroke="#3f7f82" stroke-width="0.5"/><polygon points="1455.1,926.0 1463.9,926.0 1463.9,943.5 1455.1,943.5" fill="#33bfc0" stroke="#3f7f82" stroke-width="0.5"/><polygon points="1341.1,928.0 1350.2,887.5 1350.2,900.3 1341.1,943.5" fill="#2eaeb0" stroke="#3f7f82" stroke-width="0.5"/><polygon points="1332.2,928.0 1341.1,928.0 1350.2,887.5 1342.9,887.5" fill="#3ac7c7" stroke="#3f7f82" stroke-width="0.5"/><polygon points="1332.2,928.0 1341.1,928.0 1341.1,943.5 1332.2,943.5" fill="#33bfc0" stroke="#3f7f82" stroke-width="0.5"/><polygon points="1442.8,926.0 1434.0,885.9 1434.0,900.3 1442.8,943.5" fill="#2eaeb0" stroke="#3f7f82" stroke-width="0.5"/><polygon points="1442.8,926.0 1451.6,926.0 1441.3,885.9 1434.0,885.9" fill="#3ac7c7" stroke="#3f7f82" stroke-width="0.5"/><polygon points="1442.8,926.0 1451.6,926.0 1451.6,943.5 1442.8,943.5" fill="#33bfc0" stroke="#3f7f82" stroke-width="0.5"/><polygon points="1353.4,926.0 1360.3,885.9 1360.3,900.3 1353.4,943.5" fill="#2eaeb0" stroke="#3f7f82" stroke-width="0.5"/><polygon points="1344.5,926.0 1353.4,926.0 1360.3,885.9 1353.0,885.9" fill="#3ac7c7" stroke="#3f7f82" stroke-width="0.5"/><polygon points="1344.5,926.0 1353.4,926.0 1353.4,943.5 1344.5,943.5" fill="#33bfc0" stroke="#3f7f82" stroke-width="0.5"/><polygon points="1430.5,926.0 1423.9,885.9 1423.9,900.3 1430.5,943.5" fill="#2eaeb0" stroke="#3f7f82" stroke-width="0.5"/><polygon points="1430.5,926.0 1439.3,926.0 1431.2,885.9 1423.9,885.9" fill="#3ac7c7" stroke="#3f7f82" stroke-width="0.5"/><polygon points="1430.5,926.0 1439.3,926.0 1439.3,943.5 1430.5,943.5" fill="#33bfc0" stroke="#3f7f82" stroke-width="0.5"/><polygon points="1365.6,926.0 1370.5,885.9 1370.5,900.3 1365.6,943.5" fill="#2eaeb0" stroke="#3f7f82" stroke-width="0.5"/><polygon points="1356.8,926.0 1365.6,926.0 1370.5,885.9 1363.2,885.9" fill="#3ac7c7" stroke="#3f7f82" stroke-width="0.5"/><polygon points="1356.8,926.0 1365.6,926.0 1365.6,943.5 1356.8,943.5" fill="#33bfc0" stroke="#3f7f82" stroke-width="0.5"/><polygon points="1418.2,926.0 1413.8,885.9 1413.8,900.3 1418.2,943.5" fill="#2eaeb0" stroke="#3f7f82" stroke-width="0.5"/><polygon points="1418.2,926.0 1427.0,926.0 1421.1,885.9 1413.8,885.9" fill="#3ac7c7" stroke="#3f7f82" stroke-width="0.5"/><polygon points="1418.2,926.0 1427.0,926.0 1427.0,943.5 1418.2,943.5" fill="#33bfc0" stroke="#3f7f82" stroke-width="0.5"/><polygon points="1377.9,926.0 1380.6,885.9 1380.6,900.3 1377.9,943.5" fill="#2eaeb0" stroke="#3f7f82" stroke-width="0.5"/><polygon points="1369.1,926.0 1377.9,926.0 1380.6,885.9 1373.3,885.9" fill="#3ac7c7" stroke="#3f7f82" stroke-width="0.5"/><polygon points="1369.1,926.0 1377.9,926.0 1377.9,943.5 1369.1,943.5" fill="#33bfc0" stroke="#3f7f82" stroke-width="0.5"/><polygon points="1405.9,926.0 1403.6,885.9 1403.6,900.3 1405.9,943.5" fill="#2eaeb0" stroke="#3f7f82" stroke-width="0.5"/><polygon points="1405.9,926.0 1414.8,926.0 1410.9,885.9 1403.6,885.9" fill="#3ac7c7" stroke="#3f7f82" stroke-width="0.5"/><polygon points="1405.9,926.0 1414.8,926.0 1414.8,943.5 1405.9,943.5" fill="#33bfc0" stroke="#3f7f82" stroke-width="0.5"/><polygon points="1390.2,926.0 1390.7,885.9 1390.7,900.3 1390.2,943.5" fill="#2eaeb0" stroke="#3f7f82" stroke-width="0.5"/><polygon points="1381.4,926.0 1390.2,926.0 1390.7,885.9 1383.4,885.9" fill="#3ac7c7" stroke="#3f7f82" stroke-width="0.5"/><polygon points="1381.4,926.0 1390.2,926.0 1390.2,943.5 1381.4,943.5" fill="#33bfc0" stroke="#3f7f82" stroke-width="0.5"/><polygon points="1393.6,926.0 1393.5,885.9 1393.5,900.3 1393.6,943.5" fill="#2eaeb0" stroke="#3f7f82" stroke-width="0.5"/><polygon points="1393.6,926.0 1402.5,926.0 1400.8,885.9 1393.5,885.9" fill="#3ac7c7" stroke="#3f7f82" stroke-width="0.5"/><polygon points="1393.6,926.0 1402.5,926.0 1402.5,943.5 1393.6,943.5" fill="#33bfc0" stroke="#3f7f82" stroke-width="0.5"/>
<line x1="1133.5" y1="956" x2="1643" y2="956" stroke="#6a6a6a" stroke-width="1"/>
<line x1="1133.5" y1="956" x2="1148" y2="943.5" stroke="#6a6a6a" stroke-width="1"/>
<line x1="1627.5" y1="943" x2="1643" y2="956" stroke="#6a6a6a" stroke-width="1"/>
<line x1="1143.0" y1="955.5" x2="1148.5" y2="950" stroke="#555" stroke-width="0.8"/>
<line x1="1155.6" y1="955.5" x2="1160.8" y2="950" stroke="#555" stroke-width="0.8"/>
<line x1="1168.2" y1="955.5" x2="1173.1" y2="950" stroke="#555" stroke-width="0.8"/>
<line x1="1180.8" y1="955.5" x2="1185.5" y2="950" stroke="#555" stroke-width="0.8"/>
<line x1="1193.4" y1="955.5" x2="1197.8" y2="950" stroke="#555" stroke-width="0.8"/>
<line x1="1206.0" y1="955.5" x2="1210.1" y2="950" stroke="#555" stroke-width="0.8"/>
<line x1="1218.6" y1="955.5" x2="1222.4" y2="950" stroke="#555" stroke-width="0.8"/>
<line x1="1231.2" y1="955.5" x2="1234.8" y2="950" stroke="#555" stroke-width="0.8"/>
<line x1="1243.8" y1="955.5" x2="1247.1" y2="950" stroke="#555" stroke-width="0.8"/>
<line x1="1256.4" y1="955.5" x2="1259.4" y2="950" stroke="#555" stroke-width="0.8"/>
<line x1="1269.0" y1="955.5" x2="1271.7" y2="950" stroke="#555" stroke-width="0.8"/>
<line x1="1281.6" y1="955.5" x2="1284.1" y2="950" stroke="#555" stroke-width="0.8"/>
<line x1="1294.2" y1="955.5" x2="1296.4" y2="950" stroke="#555" stroke-width="0.8"/>
<line x1="1306.8" y1="955.5" x2="1308.7" y2="950" stroke="#555" stroke-width="0.8"/>
<line x1="1319.4" y1="955.5" x2="1321.0" y2="950" stroke="#555" stroke-width="0.8"/>
<line x1="1332.0" y1="955.5" x2="1333.3" y2="950" stroke="#555" stroke-width="0.8"/>
<line x1="1344.6" y1="955.5" x2="1345.7" y2="950" stroke="#555" stroke-width="0.8"/>
<line x1="1357.2" y1="955.5" x2="1358.0" y2="950" stroke="#555" stroke-width="0.8"/>
<line x1="1369.8" y1="955.5" x2="1370.3" y2="950" stroke="#555" stroke-width="0.8"/>
<line x1="1382.4" y1="955.5" x2="1382.6" y2="950" stroke="#555" stroke-width="0.8"/>
<line x1="1395.0" y1="955.5" x2="1395.0" y2="950" stroke="#555" stroke-width="0.8"/>
<line x1="1407.6" y1="955.5" x2="1407.3" y2="950" stroke="#555" stroke-width="0.8"/>
<line x1="1420.2" y1="955.5" x2="1419.6" y2="950" stroke="#555" stroke-width="0.8"/>
<line x1="1432.8" y1="955.5" x2="1431.9" y2="950" stroke="#555" stroke-width="0.8"/>
<line x1="1445.4" y1="955.5" x2="1444.2" y2="950" stroke="#555" stroke-width="0.8"/>
<line x1="1458.0" y1="955.5" x2="1456.6" y2="950" stroke="#555" stroke-width="0.8"/>
<line x1="1470.6" y1="955.5" x2="1468.9" y2="950" stroke="#555" stroke-width="0.8"/>
<line x1="1483.2" y1="955.5" x2="1481.2" y2="950" stroke="#555" stroke-width="0.8"/>
<line x1="1495.8" y1="955.5" x2="1493.5" y2="950" stroke="#555" stroke-width="0.8"/>
<line x1="1508.4" y1="955.5" x2="1505.9" y2="950" stroke="#555" stroke-width="0.8"/>
<line x1="1521.0" y1="955.5" x2="1518.2" y2="950" stroke="#555" stroke-width="0.8"/>
<line x1="1533.6" y1="955.5" x2="1530.5" y2="950" stroke="#555" stroke-width="0.8"/>
<line x1="1546.2" y1="955.5" x2="1542.8" y2="950" stroke="#555" stroke-width="0.8"/>
<line x1="1558.8" y1="955.5" x2="1555.2" y2="950" stroke="#555" stroke-width="0.8"/>
<line x1="1571.4" y1="955.5" x2="1567.5" y2="950" stroke="#555" stroke-width="0.8"/>
<line x1="1584.0" y1="955.5" x2="1579.8" y2="950" stroke="#555" stroke-width="0.8"/>
<line x1="1596.6" y1="955.5" x2="1592.1" y2="950" stroke="#555" stroke-width="0.8"/>
<line x1="1609.2" y1="955.5" x2="1604.4" y2="950" stroke="#555" stroke-width="0.8"/>
<line x1="1621.8" y1="955.5" x2="1616.8" y2="950" stroke="#555" stroke-width="0.8"/>
<line x1="1634.4" y1="955.5" x2="1629.1" y2="950" stroke="#555" stroke-width="0.8"/>
<path d="M1349.5,737 L1354.5,737 L1354.5,747 L1358,747 L1352,757 L1346,747 L1349.5,747 Z" fill="#fff" stroke="#e01b1b" stroke-width="1.2"/>
<text x="1113" y="986" transform="rotate(-45 1113 986)" font-family="Liberation Sans" font-size="14.6" fill="#222" text-anchor="middle" dominant-baseline="central">500</text>
<text x="1169" y="989" transform="rotate(-54 1169 989)" font-family="Liberation Sans" font-size="14.6" fill="#222" text-anchor="middle" dominant-baseline="central">1300</text>
<text x="1227" y="992.5" transform="rotate(-63 1227 992.5)" font-family="Liberation Sans" font-size="14.6" fill="#222" text-anchor="middle" dominant-baseline="central">2100</text>
<text x="1286" y="992" transform="rotate(-72 1286 992)" font-family="Liberation Sans" font-size="14.6" fill="#222" text-anchor="middle" dominant-baseline="central">2900</text>
<text x="1346" y="992" transform="rotate(-81 1346 992)" font-family="Liberation Sans" font-size="14.6" fill="#222" text-anchor="middle" dominant-baseline="central">3700</text>
<text x="1405.8" y="992.8" transform="rotate(-90 1405.8 992.8)" font-family="Liberation Sans" font-size="14.6" fill="#222" text-anchor="middle" dominant-baseline="central">4500</text>
<text x="1464.4" y="991" transform="rotate(-99 1464.4 991)" font-family="Liberation Sans" font-size="14.6" fill="#222" text-anchor="middle" dominant-baseline="central">5300</text>
<text x="1522" y="990.5" transform="rotate(-108 1522 990.5)" font-family="Liberation Sans" font-size="14.6" fill="#222" text-anchor="middle" dominant-baseline="central">6100</text>
<text x="1580" y="989" transform="rotate(-117 1580 989)" font-family="Liberation Sans" font-size="14.6" fill="#222" text-anchor="middle" dominant-baseline="central">6900</text>
<text x="1644" y="987" transform="rotate(-126 1644 987)" font-family="Liberation Sans" font-size="14.6" fill="#222" text-anchor="middle" dominant-baseline="central">7700</text>
<text x="1060.5" y="868" transform="rotate(-90 1060.5 868)" font-family="Liberation Sans" font-size="14.6" fill="#222" text-anchor="middle" dominant-baseline="central">Avg Win</text>
<text x="1701.5" y="809.5" transform="rotate(-90 1701.5 809.5)" font-family="Liberation Sans" font-size="14.6" fill="#222" text-anchor="middle" dominant-baseline="central">TradingLongExit (I-2)</text>
</svg>
<div class="t" style="top:27.99px;height:26.0px;line-height:26.0px;font-size:20.8px;font-weight:bold;color:#16b1e2;left:710.00px;transform:scaleX(0.7093);transform-origin:0 0;">WEALTH HUB ARCHIVE</div>
<div class="t" style="top:27.99px;height:26.0px;line-height:26.0px;font-size:20.8px;font-weight:bold;color:#16b1e2;left:1040.00px;transform:scaleX(0.7093);transform-origin:0 0;">WEALTH HUB ARCHIVE</div>
<div class="t" style="top:206.71px;height:44.12px;line-height:44.12px;font-size:35.3px;font-weight:bold;color:#231f20;left:341.00px;transform:scaleX(0.5395);transform-origin:0 0;">STRATEGY SETUP A.</div>
<div class="t" style="top:324.42px;height:27.25px;line-height:27.25px;font-size:21.8px;color:#111;left:295.00px;transform:scaleX(0.9150);transform-origin:0 0;">Symbol</div>
<div class="t" style="top:324.42px;height:27.25px;line-height:27.25px;font-size:21.8px;color:#111;left:765.62px;transform:scaleX(0.8254);transform-origin:100% 0;">VX</div>
<div class="t" style="top:350.54px;height:27.25px;line-height:27.25px;font-size:21.8px;color:#111;left:295.00px;transform:scaleX(0.9150);transform-origin:0 0;">Description</div>
<div class="t" style="top:350.54px;height:27.25px;line-height:27.25px;font-size:21.8px;color:#111;left:684.91px;transform:scaleX(0.8558);transform-origin:100% 0;">VIX Futures</div>
<div class="t" style="top:376.66px;height:27.25px;line-height:27.25px;font-size:21.8px;color:#111;left:295.00px;transform:scaleX(0.9150);transform-origin:0 0;">Interval</div>
<div class="t" style="top:376.66px;height:27.25px;line-height:27.25px;font-size:21.8px;color:#111;left:749.16px;transform:scaleX(0.9812);transform-origin:100% 0;">daily</div>
<div class="t" style="top:402.78px;height:27.25px;line-height:27.25px;font-size:21.8px;color:#111;left:295.00px;transform:scaleX(0.9150);transform-origin:0 0;">Start Date/Time</div>
<div class="t" style="top:402.78px;height:27.25px;line-height:27.25px;font-size:21.8px;color:#111;letter-spacing:1.391px;left:670.39px;">01/01/2015</div>
<div class="t" style="top:428.90px;height:27.25px;line-height:27.25px;font-size:21.8px;color:#111;left:295.00px;transform:scaleX(0.9150);transform-origin:0 0;">End Date/Time</div>
<div class="t" style="top:428.90px;height:27.25px;line-height:27.25px;font-size:21.8px;color:#111;letter-spacing:1.691px;left:667.69px;">04/01/2021</div>
<div class="t" style="top:455.02px;height:27.25px;line-height:27.25px;font-size:21.8px;color:#111;left:295.00px;transform:scaleX(0.9150);transform-origin:0 0;">Initial Capital</div>
<div class="t" style="top:455.02px;height:27.25px;line-height:27.25px;font-size:21.8px;color:#111;letter-spacing:0.458px;left:710.46px;">$10,000</div>
<div class="t" style="top:481.14px;height:27.25px;line-height:27.25px;font-size:21.8px;color:#111;left:295.00px;transform:scaleX(0.9150);transform-origin:0 0;">Commission &amp; Slippage</div>
<div class="t" style="top:481.14px;height:27.25px;line-height:27.25px;font-size:21.8px;color:#111;letter-spacing:0.638px;left:722.14px;">$50.00</div>
<div class="t" style="top:507.26px;height:27.25px;line-height:27.25px;font-size:21.8px;color:#111;left:295.00px;transform:scaleX(0.9150);transform-origin:0 0;">Dollars per trade</div>
<div class="t" style="top:507.26px;height:27.25px;line-height:27.25px;font-size:21.8px;color:#111;letter-spacing:0.458px;left:710.46px;">$10,000</div>
<div class="t" style="top:533.38px;height:27.25px;line-height:27.25px;font-size:21.8px;color:#111;left:295.00px;transform:scaleX(0.9150);transform-origin:0 0;">Money Management</div>
<div class="t" style="top:533.38px;height:27.25px;line-height:27.25px;font-size:21.8px;color:#111;left:695.06px;transform:scaleX(0.8562);transform-origin:100% 0;">Stop Loss</div>
<div class="t" style="top:576.77px;height:27.0px;line-height:27.0px;font-size:21.6px;color:#111;left:287.50px;transform:scaleX(0.9116);transform-origin:0 0;">What we want to test is the assumption that VIX futures</div>
<div class="t" style="top:599.92px;height:27.0px;line-height:27.0px;font-size:21.6px;color:#111;left:287.50px;transform:scaleX(0.9448);transform-origin:0 0;">are expected to fall over the long run because a near</div>
<div class="t" style="top:623.32px;height:27.0px;line-height:27.0px;font-size:21.6px;color:#111;left:287.50px;transform:scaleX(0.9246);transform-origin:0 0;">month contract starts trading above long-run levels. The</div>
<div class="t" style="top:646.62px;height:27.0px;line-height:27.0px;font-size:21.6px;color:#111;left:287.50px;transform:scaleX(0.9254);transform-origin:0 0;">setup is fairly simple. We enter the trade on the first</div>
<div class="t" style="top:669.92px;height:27.0px;line-height:27.0px;font-size:21.6px;color:#111;left:287.50px;transform:scaleX(0.9484);transform-origin:0 0;">trading day of the month and exit our trade at the end of</div>
<div class="t" style="top:693.42px;height:27.0px;line-height:27.0px;font-size:21.6px;color:#111;left:287.50px;transform:scaleX(0.8966);transform-origin:0 0;">the month.</div>
<div class="t" style="top:203.42px;height:27.0px;line-height:27.0px;font-size:21.6px;color:#111;left:1041.00px;transform:scaleX(0.9218);transform-origin:0 0;">The results already indicate that our assumption holds true and that the VIX</div>
<div class="t" style="top:226.54px;height:27.0px;line-height:27.0px;font-size:21.6px;color:#111;left:1041.00px;transform:scaleX(0.9298);transform-origin:0 0;">is expected to fall over the long run. This is especially true towards the end</div>
<div class="t" style="top:249.66px;height:27.0px;line-height:27.0px;font-size:21.6px;color:#111;left:1041.00px;transform:scaleX(0.9367);transform-origin:0 0;">of the month. Out of 54 trades the VIX price falls towards the end of the</div>
<div class="t" style="top:272.78px;height:27.0px;line-height:27.0px;font-size:21.6px;color:#111;left:1041.00px;transform:scaleX(0.9331);transform-origin:0 0;">month 64.8% of the time.</div>
<div class="t" style="top:311.52px;height:27.0px;line-height:27.0px;font-size:21.6px;color:#111;left:1041.00px;transform:scaleX(0.9402);transform-origin:0 0;">As we can see from Figure 2 a stop loss above $3,100 does not impact the</div>
<div class="t" style="top:334.99px;height:27.0px;line-height:27.0px;font-size:21.6px;color:#111;left:1041.00px;transform:scaleX(0.9488);transform-origin:0 0;">overall strategy performance in a significant way. Most of the trades fall</div>
<div class="t" style="top:358.46px;height:27.0px;line-height:27.0px;font-size:21.6px;color:#111;left:1041.00px;transform:scaleX(0.9448);transform-origin:0 0;">within one standard deviation from the mean. We have two trades that are</div>
<div class="t" style="top:381.93px;height:27.0px;line-height:27.0px;font-size:21.6px;color:#111;left:1041.00px;transform:scaleX(0.9431);transform-origin:0 0;">close to two standard deviations from the mean and on one occasion one</div>
<div class="t" style="top:405.40px;height:27.0px;line-height:27.0px;font-size:21.6px;color:#111;left:1041.00px;transform:scaleX(0.9417);transform-origin:0 0;">large swing to the upside with more than three standard deviations above</div>
<div class="t" style="top:428.87px;height:27.0px;line-height:27.0px;font-size:21.6px;color:#111;left:1041.00px;transform:scaleX(0.9437);transform-origin:0 0;">the mean. See Figure 3 for a trade-by-trade profit analysis.&nbsp; For the day of</div>
<div class="t" style="top:452.34px;height:27.0px;line-height:27.0px;font-size:21.6px;color:#111;left:1041.00px;transform:scaleX(0.9329);transform-origin:0 0;">week performance, the backtest exhibits the highest winning percentages</div>
<div class="t" style="top:475.81px;height:27.0px;line-height:27.0px;font-size:21.6px;color:#111;left:1041.00px;transform:scaleX(0.9659);transform-origin:0 0;">on Monday with 63.6%, Wednesday with 71.43% and on Friday with</div>
<div class="t" style="top:499.28px;height:27.0px;line-height:27.0px;font-size:21.6px;color:#111;left:1041.00px;transform:scaleX(0.9235);transform-origin:0 0;">77.78%. The consecutive trades study reveals the following interesting</div>
<div class="t" style="top:522.75px;height:27.0px;line-height:27.0px;font-size:21.6px;color:#111;left:1041.00px;transform:scaleX(0.9104);transform-origin:0 0;">patterns:</div>
<div class="t" style="top:551.52px;height:27.0px;line-height:27.0px;font-size:21.6px;color:#111;left:1099.40px;transform:scaleX(0.9387);transform-origin:0 0;">2 consecutive wins – next trade win% 52%</div>
<div class="t" style="top:572.77px;height:27.0px;line-height:27.0px;font-size:21.6px;color:#111;left:1099.40px;transform:scaleX(0.9437);transform-origin:0 0;">3 consecutive wins – next trade win% 36.4%</div>
<div class="t" style="top:595.27px;height:27.0px;line-height:27.0px;font-size:21.6px;color:#111;left:1099.40px;transform:scaleX(0.9397);transform-origin:0 0;">1 loss – next trade win% 77.8%</div>
<div class="t" style="top:616.52px;height:27.0px;line-height:27.0px;font-size:21.6px;color:#111;left:1099.40px;transform:scaleX(0.9284);transform-origin:0 0;">2 consecutive losses – next trade win% 75%</div>
<div class="t" style="top:1076.22px;height:27.0px;line-height:27.0px;font-size:21.6px;color:#111;left:1120.30px;transform:scaleX(1.0154);transform-origin:0 0;"><b><i>Figure 2: Stop Loss and Average Win.</i></b> The</div>
<div class="t" style="top:1098.82px;height:27.0px;line-height:27.0px;font-size:21.6px;color:#111;left:1120.30px;transform:scaleX(0.9215);transform-origin:0 0;">average win does not increase when the stop loss is set</div>
<div class="t" style="top:1122.32px;height:27.0px;line-height:27.0px;font-size:21.6px;color:#111;left:1120.30px;transform:scaleX(0.9252);transform-origin:0 0;">above $3,100. This indicates that during most months the</div>
<div class="t" style="top:1145.72px;height:27.0px;line-height:27.0px;font-size:21.6px;color:#111;left:1120.30px;transform:scaleX(0.9335);transform-origin:0 0;">VIX deviates up to a maximum of 3.1 points below the</div>
<div class="t" style="top:1169.02px;height:27.0px;line-height:27.0px;font-size:21.6px;color:#111;left:1120.30px;transform:scaleX(0.9365);transform-origin:0 0;">opening of the first trading day of the month.</div>
<div class="t" style="top:721.90px;height:13.25px;line-height:13.25px;font-size:10.6px;font-weight:bold;left:331.00px;transform:scaleX(0.9850);transform-origin:0 0;"><span style="color:#1a3cf0">Overall</span> Total Net Profit: $26,800 Total</div>
<div class="t" style="top:737.20px;height:13.25px;line-height:13.25px;font-size:10.6px;font-weight:bold;left:331.00px;transform:scaleX(0.9850);transform-origin:0 0;">Trades: 54 Average Trade: $496 Max</div>
<div class="t" style="top:752.00px;height:13.25px;line-height:13.25px;font-size:10.6px;font-weight:bold;left:331.00px;transform:scaleX(0.9850);transform-origin:0 0;">Closed-out Drawdown: <span style="color:#f41414">$6,300</span> Max</div>
<div class="t" style="top:767.00px;height:13.25px;line-height:13.25px;font-size:10.6px;font-weight:bold;left:331.00px;transform:scaleX(0.9850);transform-origin:0 0;">Intra-trade Drawdown: <span style="color:#f41414">$9,450</span></div>
<div class="t" style="top:782.20px;height:13.25px;line-height:13.25px;font-size:10.6px;font-weight:bold;left:331.00px;transform:scaleX(0.9850);transform-origin:0 0;">Account Size Required: $21,000 Open</div>
<div class="t" style="top:797.50px;height:13.25px;line-height:13.25px;font-size:10.6px;font-weight:bold;left:331.00px;transform:scaleX(0.9850);transform-origin:0 0;">Equity:</div>
<div class="t" style="top:737.70px;height:13.25px;line-height:13.25px;font-size:10.6px;font-weight:bold;left:540.00px;transform:scaleX(1.1593);transform-origin:0 0;">Profit Ratio (Win/Losses):</div>
<div class="t" style="top:737.70px;height:13.25px;line-height:13.25px;font-size:10.6px;font-weight:bold;left:540.00px;transform:scaleX(0.9967);transform-origin:0 0;">$4 67.6% P(%Win R/$8</div>
<div class="t" style="top:752.20px;height:13.25px;line-height:13.25px;font-size:10.6px;font-weight:bold;left:540.00px;transform:scaleX(1.0290);transform-origin:0 0;">(AvgWin/AvgLoss)</div>
<div class="t" style="top:752.20px;height:13.25px;line-height:13.25px;font-size:10.6px;font-weight:bold;left:540.00px;transform:scaleX(1.1588);transform-origin:0 0;">Win Percentage</div>
<div class="t" style="top:752.20px;height:13.25px;line-height:13.25px;font-size:10.6px;font-weight:bold;left:638.50px;transform:scaleX(0.9406);transform-origin:0 0;">CPC Index(PF x Win%</div>
<div class="t" style="top:766.70px;height:13.25px;line-height:13.25px;font-size:10.6px;font-weight:bold;left:540.00px;transform:scaleX(1.0043);transform-origin:0 0;">x PR): Expectancy (AvgTrade/AvgLoss):</div>
<div class="t" style="top:766.70px;height:13.25px;line-height:13.25px;font-size:10.6px;font-weight:bold;left:723.38px;transform:scaleX(0.9850);transform-origin:100% 0;">0.80</div>
<div class="t" style="top:781.00px;height:13.25px;line-height:13.25px;font-size:10.6px;font-weight:bold;left:540.00px;transform:scaleX(0.9850);transform-origin:0 0;">16.51% Return Pct: 0.18</div>
<div class="t" style="top:781.00px;height:13.25px;line-height:13.25px;font-size:10.6px;font-weight:bold;left:723.38px;transform:scaleX(0.9850);transform-origin:100% 0;">0.76</div>
<div class="t" style="top:811.10px;height:13.25px;line-height:13.25px;font-size:10.6px;font-weight:bold;left:708.06px;transform:scaleX(0.9850);transform-origin:100% 0;">127.6%</div>
<div class="t" style="top:825.50px;height:13.25px;line-height:13.25px;font-size:10.6px;font-weight:bold;left:486.70px;transform:scaleX(0.9850);transform-origin:0 0;">$0 Kelly Pct (Avg Trade/Avg Win): 67.1%</div>
<div class="t" style="top:825.50px;height:13.25px;line-height:13.25px;font-size:10.6px;font-weight:bold;left:708.06px;transform:scaleX(0.9850);transform-origin:100% 0;">20.70%</div>
<div class="t" style="top:840.50px;height:13.25px;line-height:13.25px;font-size:10.6px;font-weight:bold;left:331.00px;transform:scaleX(0.9850);transform-origin:0 0;">Percent in the Market</div>
<div class="t" style="top:840.50px;height:13.25px;line-height:13.25px;font-size:10.6px;font-weight:bold;left:486.70px;transform:scaleX(0.9850);transform-origin:0 0;">Optimal f:</div>
<div class="t" style="top:855.10px;height:13.25px;line-height:13.25px;font-size:10.6px;font-weight:bold;left:331.00px;transform:scaleX(0.9850);transform-origin:0 0;">Avg # of Bars in Trader:</div>
<div class="t" style="top:855.10px;height:13.25px;line-height:13.25px;font-size:10.6px;font-weight:bold;left:490.00px;transform:scaleX(0.9850);transform-origin:0 0;">14.26</div>
<div class="t" style="top:855.10px;height:13.25px;line-height:13.25px;font-size:10.6px;font-weight:bold;left:540.00px;transform:scaleX(0.9850);transform-origin:0 0;">Z-Score (WL Predictability):</div>
<div class="t" style="top:855.10px;height:13.25px;line-height:13.25px;font-size:10.6px;font-weight:bold;left:729.27px;transform:scaleX(0.9850);transform-origin:100% 0;">1.2</div>
<div class="t" style="top:866.70px;height:13.25px;line-height:13.25px;font-size:10.6px;font-weight:bold;left:540.00px;transform:scaleX(0.9850);transform-origin:0 0;">Current Streak</div>
<div class="t" style="top:869.70px;height:13.25px;line-height:13.25px;font-size:10.6px;font-weight:bold;left:331.00px;transform:scaleX(0.9850);transform-origin:0 0;">Avg # of Trades per Year</div>
<div class="t" style="top:869.70px;height:13.25px;line-height:13.25px;font-size:10.6px;font-weight:bold;left:490.00px;transform:scaleX(0.9850);transform-origin:0 0;">12.2</div>
<div class="t" style="top:869.30px;height:13.25px;line-height:13.25px;font-size:10.6px;font-weight:bold;left:698.64px;transform:scaleX(0.9850);transform-origin:100% 0;">2 Losses</div>
<div class="t" style="top:899.70px;height:13.25px;line-height:13.25px;font-size:10.6px;font-weight:bold;color:#1a3cf0;left:331.00px;transform:scaleX(0.9850);transform-origin:0 0;">Monthly Profit Analysis</div>
<div class="t" style="top:914.10px;height:13.25px;line-height:13.25px;font-size:10.6px;font-weight:bold;left:331.00px;transform:scaleX(0.9850);transform-origin:0 0;">Average Monthly Profit:</div>
<div class="t" style="top:914.10px;height:13.25px;line-height:13.25px;font-size:10.6px;font-weight:bold;left:492.92px;transform:scaleX(0.9850);transform-origin:100% 0;">$496</div>
<div class="t" style="top:914.10px;height:13.25px;line-height:13.25px;font-size:10.6px;font-weight:bold;left:539.60px;transform:scaleX(0.9850);transform-origin:0 0;">Monthly Sharpe Ratio:</div>
<div class="t" style="top:914.10px;height:13.25px;line-height:13.25px;font-size:10.6px;font-weight:bold;left:723.38px;transform:scaleX(0.9850);transform-origin:100% 0;">0.15</div>
<div class="t" style="top:929.10px;height:13.25px;line-height:13.25px;font-size:10.6px;font-weight:bold;left:331.00px;transform:scaleX(0.9850);transform-origin:0 0;">Std Dev of Monthly Profits:</div>
<div class="t" style="top:929.10px;height:13.25px;line-height:13.25px;font-size:10.6px;font-weight:bold;left:484.09px;transform:scaleX(0.9850);transform-origin:100% 0;">$3,082</div>
<div class="t" style="top:929.10px;height:13.25px;line-height:13.25px;font-size:10.6px;font-weight:bold;left:539.60px;transform:scaleX(0.9850);transform-origin:0 0;">Annualized Sharpe Ratio:</div>
<div class="t" style="top:929.10px;height:13.25px;line-height:13.25px;font-size:10.6px;font-weight:bold;left:723.38px;transform:scaleX(0.9850);transform-origin:100% 0;">0.50</div>
<div class="t" style="top:945.00px;height:13.25px;line-height:13.25px;font-size:10.6px;font-weight:bold;left:507.00px;transform:scaleX(0.9850);transform-origin:0 0;">Calmar Ratio:</div>
<div class="t" style="top:945.00px;height:13.25px;line-height:13.25px;font-size:10.6px;font-weight:bold;left:723.38px;transform:scaleX(0.9850);transform-origin:100% 0;">0.63</div>
<div class="t" style="top:976.30px;height:13.25px;line-height:13.25px;font-size:10.6px;font-weight:bold;color:#1a3cf0;left:331.00px;transform:scaleX(0.9850);transform-origin:0 0;">Winning Trades</div>
<div class="t" style="top:976.30px;height:13.25px;line-height:13.25px;font-size:10.6px;font-weight:bold;color:#1a3cf0;left:539.60px;transform:scaleX(0.9850);transform-origin:0 0;">Losing Trades</div>
<div class="t" style="top:989.70px;height:13.25px;line-height:13.25px;font-size:10.6px;font-weight:bold;left:331.00px;transform:scaleX(0.9850);transform-origin:0 0;">Total Winners:</div>
<div class="t" style="top:989.70px;height:13.25px;line-height:13.25px;font-size:10.6px;font-weight:bold;left:477.00px;transform:scaleX(0.9850);transform-origin:0 0;">35 Total Losers: $83,900</div>
<div class="t" style="top:989.70px;height:13.25px;line-height:13.25px;font-size:10.6px;font-weight:bold;left:732.20px;transform:scaleX(0.9850);transform-origin:100% 0;">19</div>
<div class="t" style="top:999.70px;height:13.25px;line-height:13.25px;font-size:10.6px;font-weight:bold;color:#f41414;left:702.17px;transform:scaleX(0.9850);transform-origin:100% 0;">-$57,100</div>
<div class="t" style="top:1004.90px;height:13.25px;line-height:13.25px;font-size:10.6px;font-weight:bold;left:331.00px;transform:scaleX(0.9850);transform-origin:0 0;">Gross Profit:</div>
<div class="t" style="top:1004.90px;height:13.25px;line-height:13.25px;font-size:10.6px;font-weight:bold;left:477.00px;transform:scaleX(0.9850);transform-origin:0 0;">Gross Loss:</div>
<div class="t" style="top:1019.70px;height:13.25px;line-height:13.25px;font-size:10.6px;font-weight:bold;left:331.00px;transform:scaleX(0.9850);transform-origin:0 0;">Average Win:</div>
<div class="t" style="top:1019.70px;height:13.25px;line-height:13.25px;font-size:10.6px;font-weight:bold;left:477.00px;transform:scaleX(0.9850);transform-origin:0 0;">$2,397 AverageLoss:</div>
<div class="t" style="top:1019.70px;height:13.25px;line-height:13.25px;font-size:10.6px;font-weight:bold;color:#f41414;left:708.06px;transform:scaleX(0.9850);transform-origin:100% 0;">-$3,005</div>
<div class="t" style="top:1033.00px;height:13.25px;line-height:13.25px;font-size:10.6px;font-weight:bold;left:331.00px;transform:scaleX(0.9850);transform-origin:0 0;">Largest Win:</div>
<div class="t" style="top:1033.00px;height:13.25px;line-height:13.25px;font-size:10.6px;font-weight:bold;left:477.00px;transform:scaleX(0.9850);transform-origin:0 0;">$10,200 Largest Loss:</div>
<div class="t" style="top:1033.00px;height:13.25px;line-height:13.25px;font-size:10.6px;font-weight:bold;color:#f41414;left:708.06px;transform:scaleX(0.9850);transform-origin:100% 0;">-$3,150</div>
<div class="t" style="top:1047.60px;height:13.25px;line-height:13.25px;font-size:10.6px;font-weight:bold;left:331.00px;transform:scaleX(0.9850);transform-origin:0 0;">Largest Drawdown in Win: <span style="color:#f41414">-$2,950</span> Largest Peak in Loss: Avg</div>
<div class="t" style="top:1047.60px;height:13.25px;line-height:13.25px;font-size:10.6px;font-weight:bold;left:711.59px;transform:scaleX(0.9850);transform-origin:100% 0;">$4,000</div>
<div class="t" style="top:1062.90px;height:13.25px;line-height:13.25px;font-size:10.6px;font-weight:bold;left:331.00px;transform:scaleX(0.9850);transform-origin:0 0;">Drawdown in Win: <span style="color:#f41414">-$1,190</span> Avg Peak in Loss:</div>
<div class="t" style="top:1062.90px;height:13.25px;line-height:13.25px;font-size:10.6px;font-weight:bold;left:711.59px;transform:scaleX(0.9850);transform-origin:100% 0;">$1,050</div>
<div class="t" style="top:1078.30px;height:13.25px;line-height:13.25px;font-size:10.6px;font-weight:bold;left:331.00px;transform:scaleX(0.9850);transform-origin:0 0;">Avg Run Up in Win:</div>
<div class="t" style="top:1078.30px;height:13.25px;line-height:13.25px;font-size:10.6px;font-weight:bold;left:484.19px;transform:scaleX(0.9850);transform-origin:100% 0;">$3,094</div>
<div class="t" style="top:1078.30px;height:13.25px;line-height:13.25px;font-size:10.6px;font-weight:bold;left:540.00px;transform:scaleX(0.9850);transform-origin:0 0;">Avg Run Up in Loss:</div>
<div class="t" style="top:1078.30px;height:13.25px;line-height:13.25px;font-size:10.6px;font-weight:bold;left:711.59px;transform:scaleX(0.9850);transform-origin:100% 0;">$1,050</div>
<div class="t" style="top:1092.70px;height:13.25px;line-height:13.25px;font-size:10.6px;font-weight:bold;left:331.00px;transform:scaleX(0.9850);transform-origin:0 0;">Avg Run Down in Win:</div>
<div class="t" style="top:1092.70px;height:13.25px;line-height:13.25px;font-size:10.6px;font-weight:bold;color:#f41414;left:480.66px;transform:scaleX(0.9850);transform-origin:100% 0;">-$1,190</div>
<div class="t" style="top:1092.70px;height:13.25px;line-height:13.25px;font-size:10.6px;font-weight:bold;left:519.80px;transform:scaleX(0.9850);transform-origin:0 0;">Avg Run Down in Loss: 5</div>
<div class="t" style="top:1092.70px;height:13.25px;line-height:13.25px;font-size:10.6px;font-weight:bold;color:#f41414;left:708.06px;transform:scaleX(0.9850);transform-origin:100% 0;">-$3,037</div>
<div class="t" style="top:1107.60px;height:13.25px;line-height:13.25px;font-size:10.6px;font-weight:bold;left:331.00px;transform:scaleX(0.9850);transform-origin:0 0;">Most Consec Wins:</div>
<div class="t" style="top:1107.60px;height:13.25px;line-height:13.25px;font-size:10.6px;font-weight:bold;left:479.70px;transform:scaleX(0.9850);transform-origin:0 0;">Most Consec Losses:</div>
<div class="t" style="top:1107.60px;height:13.25px;line-height:13.25px;font-size:10.6px;font-weight:bold;left:738.09px;transform:scaleX(0.9850);transform-origin:100% 0;">2</div>
<div class="t" style="top:1121.40px;height:13.25px;line-height:13.25px;font-size:10.6px;font-weight:bold;left:331.00px;transform:scaleX(0.9850);transform-origin:0 0;">Avg # of Consec Wins:</div>
<div class="t" style="top:1121.40px;height:13.25px;line-height:13.25px;font-size:10.6px;font-weight:bold;left:519.00px;transform:scaleX(0.9850);transform-origin:0 0;">2.50 Avg # of Consec Losses:</div>
<div class="t" style="top:1121.40px;height:13.25px;line-height:13.25px;font-size:10.6px;font-weight:bold;left:723.38px;transform:scaleX(0.9850);transform-origin:100% 0;">1.27</div>
<div class="t" style="top:1134.00px;height:13.25px;line-height:13.25px;font-size:10.6px;font-weight:bold;left:331.00px;transform:scaleX(0.9850);transform-origin:0 0;">Avg # of Bars in Wins:</div>
<div class="t" style="top:1134.00px;height:13.25px;line-height:13.25px;font-size:10.6px;font-weight:bold;left:511.30px;transform:scaleX(0.9850);transform-origin:0 0;">19.00 Avg # of Bars in Losses:</div>
<div class="t" style="top:1134.00px;height:13.25px;line-height:13.25px;font-size:10.6px;font-weight:bold;left:723.38px;transform:scaleX(0.9850);transform-origin:100% 0;">5.53</div>
<div class="t" style="top:782.82px;height:18.25px;line-height:18.25px;font-size:14.6px;color:#222;left:1087.03px;">5000</div>
<div class="t" style="top:834.82px;height:18.25px;line-height:18.25px;font-size:14.6px;color:#222;left:1087.03px;">4000</div>
<div class="t" style="top:886.32px;height:18.25px;line-height:18.25px;font-size:14.6px;color:#222;left:1087.03px;">3000</div>
<div class="t" style="top:937.32px;height:18.25px;line-height:18.25px;font-size:14.6px;color:#222;left:1087.03px;">2000</div>
<div class="t" style="top:724.37px;height:12.0px;line-height:12.0px;font-size:9.6px;color:#333;left:1308.40px;transform:scaleX(0.9439);transform-origin:0 0;">Stop Loss peak at &gt;$ 3100</div>
<div class="t" style="top:827.82px;height:18.25px;line-height:18.25px;font-size:14.6px;color:#222;left:1540.00px;">20</div>
<div class="t" style="top:858.32px;height:18.25px;line-height:18.25px;font-size:14.6px;color:#222;left:1574.60px;">19</div>
<div class="t" style="top:906.52px;height:18.25px;line-height:18.25px;font-size:14.6px;color:#222;left:1626.00px;">18</div>
<div class="t" style="top:1024.01px;height:18.0px;line-height:18.0px;font-size:14.4px;color:#222;left:1302.50px;transform:scaleX(1.0293);transform-origin:0 0;">Stop Loss Amount (I-1)</div>
<div class="t" style="left:879.5px;top:1318.8px;font-size:16.5px;line-height:22px;color:#111;transform:scaleX(0.8);transform-origin:0 0">6</div>
<div class="t" style="left:1034.5px;top:1318.8px;font-size:16.5px;line-height:22px;color:#111;transform:scaleX(0.8);transform-origin:0 0">7</div>
</body></html>
